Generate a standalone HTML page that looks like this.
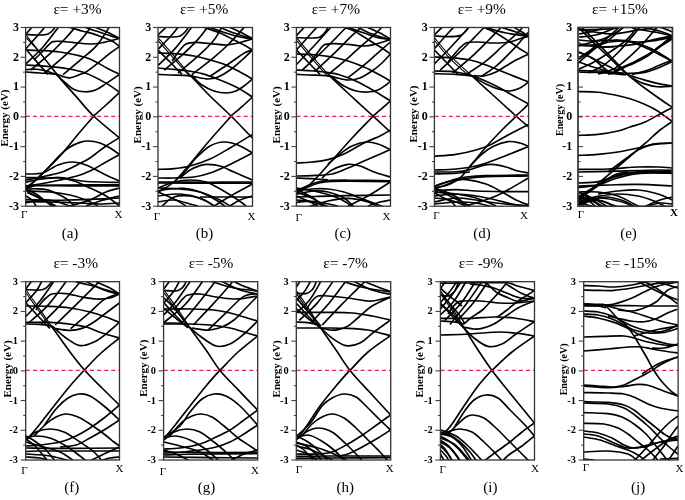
<!DOCTYPE html>
<html><head><meta charset="utf-8"><style>
html,body{margin:0;padding:0;background:#fff;}
svg{display:block;}
text{font-family:"Liberation Serif","DejaVu Serif",serif;fill:#000;}
.tl{font-weight:bold;}
.yl{font-weight:bold;font-size:10px;}
.kl{font-size:11px;}
.kl.b{font-weight:bold;}
.tt{font-size:15.4px;}
.pl{font-size:15px;}
</style></head><body>
<svg width="685" height="500" viewBox="0 0 685 500">
<rect width="685" height="500" fill="#fff"/>
<clipPath id="ca"><rect x="25.60" y="27.50" width="93.90" height="178.70"/></clipPath>
<g clip-path="url(#ca)" fill="none" stroke="#000" stroke-width="1.65" stroke-linejoin="round">
<path stroke-width="1.15" d="M26.00 35.20 C27.67 37.27 32.33 42.93 36.00 47.60 C39.67 52.27 44.67 58.80 48.00 63.20 C51.33 67.60 54.67 72.20 56.00 74.00"/>
<path d="M56.00 74.00 C59.33 77.73 69.73 89.40 76.00 96.40 C82.27 103.40 86.33 109.07 93.60 116.00 C100.87 122.93 115.27 134.33 119.60 138.00"/>
<path stroke-width="1.15" d="M26.40 38.00 C28.27 40.00 33.57 45.33 37.60 50.00 C41.63 54.67 47.30 61.93 50.60 66.00 C53.90 70.07 56.27 73.00 57.40 74.40"/>
<path d="M57.00 74.40 C59.03 74.97 65.37 77.80 69.20 77.80 C73.03 77.80 77.20 75.37 80.00 74.40 C82.80 73.43 83.00 73.90 86.00 72.00 C89.00 70.10 94.17 66.00 98.00 63.00 C101.83 60.00 105.40 56.77 109.00 54.00 C112.60 51.23 117.83 47.67 119.60 46.40"/>
<path d="M57.00 75.00 C58.63 76.50 63.97 81.60 66.80 84.00 C69.63 86.40 71.00 88.10 74.00 89.40 C77.00 90.70 81.20 91.70 84.80 91.80 C88.40 91.90 92.00 91.40 95.60 90.00 C99.20 88.60 102.40 86.00 106.40 83.40 C110.40 80.80 117.40 75.90 119.60 74.40"/>
<path d="M26.00 65.00 C28.00 65.10 34.00 65.33 38.00 65.60 C42.00 65.87 45.40 66.13 50.00 66.60 C54.60 67.07 59.60 67.30 65.60 68.40 C71.60 69.50 79.20 70.70 86.00 73.20 C92.80 75.70 100.80 80.20 106.40 83.40 C112.00 86.60 117.40 90.90 119.60 92.40"/>
<path d="M26.00 50.00 C28.67 50.10 36.33 50.27 42.00 50.60 C47.67 50.93 54.33 51.27 60.00 52.00 C65.67 52.73 71.00 53.83 76.00 55.00 C81.00 56.17 84.73 56.77 90.00 59.00 C95.27 61.23 102.67 65.83 107.60 68.40 C112.53 70.97 117.60 73.40 119.60 74.40"/>
<path d="M26.00 72.00 C28.33 72.17 36.00 72.73 40.00 73.00 C44.00 73.27 47.17 73.37 50.00 73.60 C52.83 73.83 55.83 74.27 57.00 74.40"/>
<path d="M26.00 69.60 C27.67 69.53 32.67 68.97 36.00 69.20 C39.33 69.43 42.67 70.13 46.00 71.00 C49.33 71.87 54.33 73.83 56.00 74.40"/>
<path d="M26.00 34.40 C28.33 34.50 36.33 35.07 40.00 35.00 C43.67 34.93 45.83 34.83 48.00 34.00 C50.17 33.17 51.73 31.33 53.00 30.00 C54.27 28.67 55.17 26.67 55.60 26.00"/>
<path d="M34.00 60.00 C35.33 58.67 39.67 54.40 42.00 52.00 C44.33 49.60 46.17 47.33 48.00 45.60 C49.83 43.87 50.67 42.30 53.00 41.60 C55.33 40.90 58.50 41.23 62.00 41.40 C65.50 41.57 69.33 42.17 74.00 42.60 C78.67 43.03 85.67 43.90 90.00 44.00 C94.33 44.10 96.33 43.80 100.00 43.20 C103.67 42.60 108.73 41.20 112.00 40.40 C115.27 39.60 118.33 38.73 119.60 38.40"/>
<path d="M84.00 26.00 C84.50 26.33 84.00 26.83 87.00 28.00 C90.00 29.17 97.83 31.60 102.00 33.00 C106.17 34.40 109.07 35.50 112.00 36.40 C114.93 37.30 118.33 38.07 119.60 38.40"/>
<path d="M94.00 26.00 C94.50 26.33 94.83 27.00 97.00 28.00 C99.17 29.00 104.17 30.77 107.00 32.00 C109.83 33.23 111.90 34.33 114.00 35.40 C116.10 36.47 118.67 37.90 119.60 38.40"/>
<path d="M70.00 27.40 C72.00 28.00 78.33 30.00 82.00 31.00 C85.67 32.00 88.67 32.40 92.00 33.40 C95.33 34.40 98.67 35.73 102.00 37.00 C105.33 38.27 109.07 39.43 112.00 41.00 C114.93 42.57 118.33 45.50 119.60 46.40"/>
<path d="M26.00 49.20 C28.07 51.60 34.73 59.40 38.40 63.60 C42.07 67.80 46.40 72.60 48.00 74.40"/>
<path d="M93.60 116.40 C91.33 119.00 85.60 125.40 80.00 132.00 C74.40 138.60 65.33 150.00 60.00 156.00 C54.67 162.00 52.00 164.00 48.00 168.00 C44.00 172.00 39.67 176.40 36.00 180.00 C32.33 183.60 27.67 188.00 26.00 189.60"/>
<path d="M26.00 188.00 C28.33 186.00 36.00 179.67 40.00 176.00 C44.00 172.33 46.67 169.50 50.00 166.00 C53.33 162.50 56.67 158.17 60.00 155.00 C63.33 151.83 66.67 149.10 70.00 147.00 C73.33 144.90 77.00 143.40 80.00 142.40 C83.00 141.40 84.67 140.90 88.00 141.00 C91.33 141.10 96.33 141.83 100.00 143.00 C103.67 144.17 106.73 146.07 110.00 148.00 C113.27 149.93 118.00 153.50 119.60 154.60"/>
<path d="M119.60 137.60 C117.33 139.00 110.93 142.60 106.00 146.00 C101.07 149.40 94.67 154.93 90.00 158.00 C85.33 161.07 82.67 162.07 78.00 164.40 C73.33 166.73 67.33 170.07 62.00 172.00 C56.67 173.93 52.00 174.67 46.00 176.00 C40.00 177.33 29.33 179.33 26.00 180.00"/>
<path d="M119.60 154.60 C117.33 155.83 110.27 159.60 106.00 162.00 C101.73 164.40 98.33 166.83 94.00 169.00 C89.67 171.17 85.67 173.17 80.00 175.00 C74.33 176.83 66.67 178.50 60.00 180.00 C53.33 181.50 45.67 183.00 40.00 184.00 C34.33 185.00 28.33 185.67 26.00 186.00"/>
<path d="M26.00 174.00 C27.67 173.97 32.93 174.07 36.00 173.80 C39.07 173.53 40.73 173.87 44.40 172.40 C48.07 170.93 53.40 166.73 58.00 165.00 C62.60 163.27 67.33 162.00 72.00 162.00 C76.67 162.00 81.33 163.33 86.00 165.00 C90.67 166.67 96.00 170.00 100.00 172.00 C104.00 174.00 106.73 175.50 110.00 177.00 C113.27 178.50 118.00 180.33 119.60 181.00"/>
<path d="M26.00 177.60 C27.67 177.60 32.33 177.50 36.00 177.60 C39.67 177.70 44.00 178.20 48.00 178.20 C52.00 178.20 56.00 177.40 60.00 177.60 C64.00 177.80 68.00 178.80 72.00 179.40 C76.00 180.00 79.33 180.77 84.00 181.20 C88.67 181.63 94.07 181.80 100.00 182.00 C105.93 182.20 116.33 182.33 119.60 182.40"/>
<path d="M25.60 187.20 C26.67 187.00 30.27 186.33 32.00 186.00 C33.73 185.67 29.67 185.37 36.00 185.20 C42.33 185.03 56.07 185.07 70.00 185.00 C83.93 184.93 111.33 184.83 119.60 184.80"/>
<path d="M25.60 188.00 C26.67 187.77 30.10 186.97 32.00 186.60 C33.90 186.23 30.67 185.93 37.00 185.80 C43.33 185.67 56.23 185.80 70.00 185.80 C83.77 185.80 111.33 185.80 119.60 185.80"/>
<path d="M26.00 182.00 C28.67 181.50 36.67 179.73 42.00 179.00 C47.33 178.27 52.67 177.27 58.00 177.60 C63.33 177.93 68.67 179.27 74.00 181.00 C79.33 182.73 84.67 185.50 90.00 188.00 C95.33 190.50 101.07 193.00 106.00 196.00 C110.93 199.00 117.33 204.33 119.60 206.00"/>
<path d="M25.60 199.60 C28.00 199.67 34.93 199.87 40.00 200.00 C45.07 200.13 51.47 200.40 56.00 200.40 C60.53 200.40 61.53 200.17 67.20 200.00 C72.87 199.83 81.27 199.73 90.00 199.40 C98.73 199.07 114.67 198.23 119.60 198.00"/>
<path d="M25.60 201.60 C29.67 201.67 40.93 201.77 50.00 202.00 C59.07 202.23 71.67 202.67 80.00 203.00 C88.33 203.33 93.40 204.00 100.00 204.00 C106.60 204.00 116.33 203.17 119.60 203.00"/>
<path d="M25.60 189.20 C27.33 189.13 32.53 188.73 36.00 188.80 C39.47 188.87 43.07 188.87 46.40 189.60 C49.73 190.33 53.07 191.93 56.00 193.20 C58.93 194.47 61.60 195.73 64.00 197.20 C66.40 198.67 68.73 200.53 70.40 202.00 C72.07 203.47 73.40 205.33 74.00 206.00"/>
<path d="M26.00 189.60 C27.67 190.33 33.00 192.27 36.00 194.00 C39.00 195.73 41.33 198.00 44.00 200.00 C46.67 202.00 50.67 205.00 52.00 206.00"/>
<path d="M27.20 192.40 C28.67 193.07 33.20 195.07 36.00 196.40 C38.80 197.73 41.33 198.93 44.00 200.40 C46.67 201.87 50.33 204.27 52.00 205.20 C53.67 206.13 53.67 205.87 54.00 206.00"/>
<path d="M28.80 192.40 C30.67 193.33 36.80 196.40 40.00 198.00 C43.20 199.60 45.33 200.67 48.00 202.00 C50.67 203.33 54.67 205.33 56.00 206.00"/>
<path d="M26.00 191.00 C30.00 191.17 42.67 191.33 50.00 192.00 C57.33 192.67 64.00 193.67 70.00 195.00 C76.00 196.33 81.33 198.17 86.00 200.00 C90.67 201.83 96.00 205.00 98.00 206.00"/>
<path d="M26.00 203.00 C28.33 202.50 35.33 200.33 40.00 200.00 C44.67 199.67 49.00 200.00 54.00 201.00 C59.00 202.00 67.33 205.17 70.00 206.00"/>
<path d="M26.00 196.00 C27.00 196.67 30.33 198.33 32.00 200.00 C33.67 201.67 35.33 205.00 36.00 206.00"/>
<path d="M70.00 206.00 C73.33 205.00 84.00 202.33 90.00 200.00 C96.00 197.67 101.07 194.00 106.00 192.00 C110.93 190.00 117.33 188.67 119.60 188.00"/>
<path d="M86.00 206.00 C88.33 205.17 94.40 202.67 100.00 201.00 C105.60 199.33 116.33 196.83 119.60 196.00"/>
<path d="M93.60 116.00 C95.67 114.17 101.67 108.93 106.00 105.00 C110.33 101.07 117.33 94.50 119.60 92.40"/>
<path d="M26.00 34.00 L33.00 26.00"/>
<path d="M26.00 48.60 C28.07 46.30 35.13 38.57 38.40 34.80 C41.67 31.03 44.40 27.47 45.60 26.00"/>
<path d="M26.00 63.80 C28.83 61.00 37.43 53.30 43.00 47.00 C48.57 40.70 56.67 29.50 59.40 26.00"/>
<path d="M30.80 70.00 C34.10 67.20 44.73 58.57 50.60 53.20 C56.47 47.83 61.73 42.33 66.00 37.80 C70.27 33.27 74.50 27.97 76.20 26.00"/>
<path d="M44.60 73.00 C48.17 69.93 59.87 60.20 66.00 54.60 C72.13 49.00 77.13 44.17 81.40 39.40 C85.67 34.63 89.90 28.23 91.60 26.00"/>
<path d="M63.00 74.60 C66.07 72.03 75.77 64.07 81.40 59.20 C87.03 54.33 92.03 50.93 96.80 45.40 C101.57 39.87 107.80 29.23 110.00 26.00"/>
</g>
<line x1="25.75" y1="116.45" x2="119.50" y2="116.45" stroke="#e8205a" stroke-width="1.25" stroke-dasharray="4.1 3.02"/>
<rect x="25.60" y="27.50" width="93.90" height="178.70" fill="none" stroke="#333" stroke-width="1.30"/>
<line x1="20.60" y1="206.20" x2="25.60" y2="206.20" stroke="#444" stroke-width="1.1"/>
<line x1="23.10" y1="191.31" x2="25.60" y2="191.31" stroke="#444" stroke-width="1.1"/>
<line x1="20.60" y1="176.42" x2="25.60" y2="176.42" stroke="#444" stroke-width="1.1"/>
<line x1="23.10" y1="161.52" x2="25.60" y2="161.52" stroke="#444" stroke-width="1.1"/>
<line x1="20.60" y1="146.63" x2="25.60" y2="146.63" stroke="#444" stroke-width="1.1"/>
<line x1="23.10" y1="131.74" x2="25.60" y2="131.74" stroke="#444" stroke-width="1.1"/>
<line x1="20.60" y1="116.85" x2="25.60" y2="116.85" stroke="#444" stroke-width="1.1"/>
<line x1="23.10" y1="101.96" x2="25.60" y2="101.96" stroke="#444" stroke-width="1.1"/>
<line x1="20.60" y1="87.07" x2="25.60" y2="87.07" stroke="#444" stroke-width="1.1"/>
<line x1="23.10" y1="72.17" x2="25.60" y2="72.17" stroke="#444" stroke-width="1.1"/>
<line x1="20.60" y1="57.28" x2="25.60" y2="57.28" stroke="#444" stroke-width="1.1"/>
<line x1="23.10" y1="42.39" x2="25.60" y2="42.39" stroke="#444" stroke-width="1.1"/>
<line x1="20.60" y1="27.50" x2="25.60" y2="27.50" stroke="#444" stroke-width="1.1"/>
<text x="18.90" y="209.50" text-anchor="end" class="tl" style="font-size:12.0px">-3</text>
<text x="18.90" y="179.72" text-anchor="end" class="tl" style="font-size:12.0px">-2</text>
<text x="18.90" y="149.93" text-anchor="end" class="tl" style="font-size:12.0px">-1</text>
<text x="18.90" y="120.15" text-anchor="end" class="tl" style="font-size:12.0px">0</text>
<text x="18.90" y="90.37" text-anchor="end" class="tl" style="font-size:12.0px">1</text>
<text x="18.90" y="60.58" text-anchor="end" class="tl" style="font-size:12.0px">2</text>
<text x="18.90" y="30.80" text-anchor="end" class="tl" style="font-size:12.0px">3</text>
<text transform="translate(8.10 118.05) rotate(-90)" text-anchor="middle" class="yl" style="font-size:11px">Energy (eV)</text>
<text x="24.10" y="218.20" text-anchor="middle" class="kl">Γ</text>
<text x="118.50" y="218.20" text-anchor="middle" class="kl">X</text>
<text x="77.50" y="13.70" text-anchor="middle" class="tt">ε= +3%</text>
<text x="70.00" y="237.80" text-anchor="middle" class="pl">(a)</text>
<clipPath id="cb"><rect x="158.00" y="27.50" width="94.50" height="178.70"/></clipPath>
<g clip-path="url(#cb)" fill="none" stroke="#000" stroke-width="1.65" stroke-linejoin="round">
<path stroke-width="1.10" d="M158.00 37.60 C160.33 40.27 166.67 47.37 172.00 53.60 C177.33 59.83 187.00 71.43 190.00 75.00"/>
<path d="M190.00 75.00 C193.33 78.50 203.17 89.17 210.00 96.00 C216.83 102.83 223.93 109.00 231.00 116.00 C238.07 123.00 248.83 134.33 252.40 138.00"/>
<path stroke-width="1.10" d="M158.00 40.40 C160.33 43.07 167.00 50.73 172.00 56.40 C177.00 62.07 184.83 71.07 188.00 74.40 C191.17 77.73 190.50 76.07 191.00 76.40"/>
<path d="M190.00 75.60 C191.00 75.83 193.00 76.43 196.00 77.00 C199.00 77.57 204.33 79.00 208.00 79.00 C211.67 79.00 214.33 78.50 218.00 77.00 C221.67 75.50 226.00 72.83 230.00 70.00 C234.00 67.17 238.27 63.33 242.00 60.00 C245.73 56.67 250.67 51.67 252.40 50.00"/>
<path d="M192.00 76.00 C193.67 77.50 198.33 82.50 202.00 85.00 C205.67 87.50 210.00 89.67 214.00 91.00 C218.00 92.33 222.33 93.00 226.00 93.00 C229.67 93.00 233.00 92.17 236.00 91.00 C239.00 89.83 241.27 88.00 244.00 86.00 C246.73 84.00 251.00 80.17 252.40 79.00"/>
<path d="M158.00 68.00 C160.00 68.17 165.33 68.57 170.00 69.00 C174.67 69.43 180.67 69.83 186.00 70.60 C191.33 71.37 196.33 72.03 202.00 73.60 C207.67 75.17 214.00 77.60 220.00 80.00 C226.00 82.40 232.60 85.17 238.00 88.00 C243.40 90.83 250.00 95.50 252.40 97.00"/>
<path d="M158.00 53.00 C160.67 53.10 168.00 53.10 174.00 53.60 C180.00 54.10 188.00 54.93 194.00 56.00 C200.00 57.07 204.67 58.50 210.00 60.00 C215.33 61.50 221.00 63.00 226.00 65.00 C231.00 67.00 235.60 69.67 240.00 72.00 C244.40 74.33 250.33 77.83 252.40 79.00"/>
<path d="M158.00 74.40 C160.00 74.50 165.00 74.80 170.00 75.00 C175.00 75.20 183.67 75.27 188.00 75.60 C192.33 75.93 194.67 76.77 196.00 77.00"/>
<path d="M158.00 36.40 C160.33 36.50 168.33 37.07 172.00 37.00 C175.67 36.93 177.67 37.00 180.00 36.00 C182.33 35.00 184.50 32.67 186.00 31.00 C187.50 29.33 188.50 26.83 189.00 26.00"/>
<path d="M172.00 61.00 C173.33 59.17 177.67 52.83 180.00 50.00 C182.33 47.17 183.33 45.27 186.00 44.00 C188.67 42.73 192.00 42.47 196.00 42.40 C200.00 42.33 205.00 43.17 210.00 43.60 C215.00 44.03 221.33 45.10 226.00 45.00 C230.67 44.90 233.60 44.00 238.00 43.00 C242.40 42.00 250.00 39.67 252.40 39.00"/>
<path d="M208.00 26.00 C208.33 26.23 207.00 26.23 210.00 27.40 C213.00 28.57 221.00 31.40 226.00 33.00 C231.00 34.60 235.60 36.00 240.00 37.00 C244.40 38.00 250.33 38.67 252.40 39.00"/>
<path d="M220.00 27.40 C222.33 28.33 228.60 31.07 234.00 33.00 C239.40 34.93 249.33 38.00 252.40 39.00"/>
<path d="M204.00 27.40 C206.67 28.33 215.00 30.90 220.00 33.00 C225.00 35.10 230.00 38.00 234.00 40.00 C238.00 42.00 240.93 43.33 244.00 45.00 C247.07 46.67 251.00 49.17 252.40 50.00"/>
<path d="M230.00 27.40 C231.67 28.17 236.27 30.17 240.00 32.00 C243.73 33.83 250.33 37.33 252.40 38.40"/>
<path d="M158.00 34.80 L167.40 26.00"/>
<path d="M158.00 49.40 C160.33 46.97 168.50 38.70 172.00 34.80 C175.50 30.90 177.83 27.47 179.00 26.00"/>
<path d="M158.00 65.40 C160.83 62.60 169.23 55.17 175.00 48.60 C180.77 42.03 189.67 29.77 192.60 26.00"/>
<path d="M164.20 70.00 C167.27 67.43 176.97 59.70 182.60 54.60 C188.23 49.50 193.70 44.17 198.00 39.40 C202.30 34.63 206.67 28.23 208.40 26.00"/>
<path d="M178.00 73.00 C181.33 70.20 192.10 61.57 198.00 56.20 C203.90 50.83 209.33 45.83 213.40 40.80 C217.47 35.77 220.90 28.47 222.40 26.00"/>
<path d="M191.80 74.60 C195.40 71.80 207.23 62.90 213.40 57.80 C219.57 52.70 223.47 49.30 228.80 44.00 C234.13 38.70 242.63 29.00 245.40 26.00"/>
<path d="M210.20 76.20 C213.30 74.13 223.17 67.63 228.80 63.80 C234.43 59.97 240.07 55.50 244.00 53.20 C247.93 50.90 251.00 50.53 252.40 50.00"/>
<path d="M158.00 50.00 C160.00 52.00 166.00 57.93 170.00 62.00 C174.00 66.07 180.00 72.33 182.00 74.40"/>
<path d="M231.00 116.40 C227.50 120.33 216.83 132.07 210.00 140.00 C203.17 147.93 196.00 157.00 190.00 164.00 C184.00 171.00 179.33 177.33 174.00 182.00 C168.67 186.67 160.67 190.33 158.00 192.00"/>
<path d="M180.00 178.00 C181.33 176.33 185.33 171.33 188.00 168.00 C190.67 164.67 192.33 161.67 196.00 158.00 C199.67 154.33 205.33 148.67 210.00 146.00 C214.67 143.33 219.33 142.17 224.00 142.00 C228.67 141.83 233.27 143.17 238.00 145.00 C242.73 146.83 250.00 151.67 252.40 153.00"/>
<path d="M158.00 169.40 C160.67 169.27 168.67 169.17 174.00 168.60 C179.33 168.03 184.00 167.60 190.00 166.00 C196.00 164.40 203.33 162.00 210.00 159.00 C216.67 156.00 222.93 152.10 230.00 148.00 C237.07 143.90 248.67 136.67 252.40 134.40"/>
<path d="M158.00 178.00 C160.67 178.00 168.00 178.17 174.00 178.00 C180.00 177.83 188.00 177.83 194.00 177.00 C200.00 176.17 204.00 175.10 210.00 173.00 C216.00 170.90 222.93 167.73 230.00 164.40 C237.07 161.07 248.67 154.90 252.40 153.00"/>
<path d="M180.00 178.00 C181.67 176.67 186.67 172.07 190.00 170.00 C193.33 167.93 197.00 166.53 200.00 165.60 C203.00 164.67 204.67 164.33 208.00 164.40 C211.33 164.47 215.67 164.73 220.00 166.00 C224.33 167.27 228.60 169.67 234.00 172.00 C239.40 174.33 249.33 178.67 252.40 180.00"/>
<path d="M158.00 182.00 C166.67 182.03 194.27 182.20 210.00 182.20 C225.73 182.20 245.33 182.03 252.40 182.00"/>
<path d="M158.00 183.00 C166.67 183.03 194.27 183.17 210.00 183.20 C225.73 183.23 245.33 183.20 252.40 183.20"/>
<path d="M200.00 197.00 L252.40 197.00"/>
<path d="M158.00 188.00 C160.67 187.00 168.67 183.33 174.00 182.00 C179.33 180.67 184.67 180.00 190.00 180.00 C195.33 180.00 200.67 180.33 206.00 182.00 C211.33 183.67 216.67 187.00 222.00 190.00 C227.33 193.00 234.00 197.33 238.00 200.00 C242.00 202.67 244.67 205.00 246.00 206.00"/>
<path d="M158.00 192.00 C161.00 193.33 171.33 197.67 176.00 200.00 C180.67 202.33 184.33 205.00 186.00 206.00"/>
<path d="M158.00 188.00 C161.67 188.17 173.00 188.33 180.00 189.00 C187.00 189.67 193.33 190.17 200.00 192.00 C206.67 193.83 215.00 197.67 220.00 200.00 C225.00 202.33 228.33 205.00 230.00 206.00"/>
<path d="M158.00 196.00 C161.67 195.67 173.00 193.67 180.00 194.00 C187.00 194.33 194.33 196.00 200.00 198.00 C205.67 200.00 211.67 204.67 214.00 206.00"/>
<path d="M214.00 206.00 C217.33 204.00 227.60 197.67 234.00 194.00 C240.40 190.33 249.33 185.67 252.40 184.00"/>
<path d="M230.00 206.00 C231.67 205.00 236.27 201.67 240.00 200.00 C243.73 198.33 250.33 196.67 252.40 196.00"/>
<path d="M158.00 202.00 C160.67 201.67 168.67 199.67 174.00 200.00 C179.33 200.33 186.00 203.00 190.00 204.00 C194.00 205.00 196.67 205.67 198.00 206.00"/>
<path d="M158.00 191.00 C160.00 190.67 165.67 189.43 170.00 189.00 C174.33 188.57 179.00 187.90 184.00 188.40 C189.00 188.90 194.67 190.07 200.00 192.00 C205.33 193.93 211.67 197.50 216.00 200.00 C220.33 202.50 224.33 205.83 226.00 207.00"/>
<path d="M162.00 206.00 C164.00 204.50 169.33 198.67 174.00 197.00 C178.67 195.33 184.67 195.33 190.00 196.00 C195.33 196.67 201.67 199.17 206.00 201.00 C210.33 202.83 214.33 206.00 216.00 207.00"/>
<path d="M231.00 116.00 C232.83 114.43 238.43 109.77 242.00 106.60 C245.57 103.43 250.67 98.60 252.40 97.00"/>
</g>
<line x1="158.15" y1="116.45" x2="252.50" y2="116.45" stroke="#e8205a" stroke-width="1.25" stroke-dasharray="4.1 3.02"/>
<rect x="158.00" y="27.50" width="94.50" height="178.70" fill="none" stroke="#333" stroke-width="1.30"/>
<line x1="153.00" y1="206.20" x2="158.00" y2="206.20" stroke="#444" stroke-width="1.1"/>
<line x1="155.50" y1="191.31" x2="158.00" y2="191.31" stroke="#444" stroke-width="1.1"/>
<line x1="153.00" y1="176.42" x2="158.00" y2="176.42" stroke="#444" stroke-width="1.1"/>
<line x1="155.50" y1="161.52" x2="158.00" y2="161.52" stroke="#444" stroke-width="1.1"/>
<line x1="153.00" y1="146.63" x2="158.00" y2="146.63" stroke="#444" stroke-width="1.1"/>
<line x1="155.50" y1="131.74" x2="158.00" y2="131.74" stroke="#444" stroke-width="1.1"/>
<line x1="153.00" y1="116.85" x2="158.00" y2="116.85" stroke="#444" stroke-width="1.1"/>
<line x1="155.50" y1="101.96" x2="158.00" y2="101.96" stroke="#444" stroke-width="1.1"/>
<line x1="153.00" y1="87.07" x2="158.00" y2="87.07" stroke="#444" stroke-width="1.1"/>
<line x1="155.50" y1="72.17" x2="158.00" y2="72.17" stroke="#444" stroke-width="1.1"/>
<line x1="153.00" y1="57.28" x2="158.00" y2="57.28" stroke="#444" stroke-width="1.1"/>
<line x1="155.50" y1="42.39" x2="158.00" y2="42.39" stroke="#444" stroke-width="1.1"/>
<line x1="153.00" y1="27.50" x2="158.00" y2="27.50" stroke="#444" stroke-width="1.1"/>
<text x="151.30" y="209.50" text-anchor="end" class="tl" style="font-size:12.0px">-3</text>
<text x="151.30" y="179.72" text-anchor="end" class="tl" style="font-size:12.0px">-2</text>
<text x="151.30" y="149.93" text-anchor="end" class="tl" style="font-size:12.0px">-1</text>
<text x="151.30" y="120.15" text-anchor="end" class="tl" style="font-size:12.0px">0</text>
<text x="151.30" y="90.37" text-anchor="end" class="tl" style="font-size:12.0px">1</text>
<text x="151.30" y="60.58" text-anchor="end" class="tl" style="font-size:12.0px">2</text>
<text x="151.30" y="30.80" text-anchor="end" class="tl" style="font-size:12.0px">3</text>
<text transform="translate(140.90 114.85) rotate(-90)" text-anchor="middle" class="yl" style="font-size:11px">Energy (eV)</text>
<text x="157.00" y="220.20" text-anchor="middle" class="kl">Γ</text>
<text x="251.50" y="220.20" text-anchor="middle" class="kl">X</text>
<text x="204.20" y="13.70" text-anchor="middle" class="tt">ε= +5%</text>
<text x="204.50" y="237.80" text-anchor="middle" class="pl">(b)</text>
<clipPath id="cc"><rect x="296.40" y="27.50" width="94.10" height="178.70"/></clipPath>
<g clip-path="url(#cc)" fill="none" stroke="#000" stroke-width="1.65" stroke-linejoin="round">
<path stroke-width="1.10" d="M296.40 37.60 C298.67 40.27 304.73 47.47 310.00 53.60 C315.27 59.73 325.00 70.93 328.00 74.40"/>
<path d="M328.00 74.40 C331.67 77.83 342.50 88.07 350.00 95.00 C357.50 101.93 366.27 109.83 373.00 116.00 C379.73 122.17 387.50 129.33 390.40 132.00"/>
<path stroke-width="1.10" d="M296.40 40.40 C298.67 43.07 305.07 50.73 310.00 56.40 C314.93 62.07 322.83 71.13 326.00 74.40 C329.17 77.67 328.50 75.73 329.00 76.00"/>
<path d="M328.00 75.20 C329.33 75.60 332.67 76.80 336.00 77.60 C339.33 78.40 344.00 79.93 348.00 80.00 C352.00 80.07 356.00 79.50 360.00 78.00 C364.00 76.50 368.33 73.50 372.00 71.00 C375.67 68.50 378.93 65.83 382.00 63.00 C385.07 60.17 389.00 55.50 390.40 54.00"/>
<path d="M332.00 77.00 C334.00 78.50 340.00 83.67 344.00 86.00 C348.00 88.33 352.00 90.00 356.00 91.00 C360.00 92.00 364.33 92.17 368.00 92.00 C371.67 91.83 375.00 91.17 378.00 90.00 C381.00 88.83 383.93 86.50 386.00 85.00 C388.07 83.50 389.67 81.67 390.40 81.00"/>
<path d="M296.40 70.00 C298.33 70.10 303.40 70.27 308.00 70.60 C312.60 70.93 318.67 71.27 324.00 72.00 C329.33 72.73 334.33 73.33 340.00 75.00 C345.67 76.67 352.00 79.17 358.00 82.00 C364.00 84.83 370.60 88.83 376.00 92.00 C381.40 95.17 388.00 99.50 390.40 101.00"/>
<path d="M296.40 54.00 C299.00 54.10 306.07 54.10 312.00 54.60 C317.93 55.10 326.00 55.93 332.00 57.00 C338.00 58.07 342.67 59.33 348.00 61.00 C353.33 62.67 359.00 64.83 364.00 67.00 C369.00 69.17 373.60 71.67 378.00 74.00 C382.40 76.33 388.33 79.83 390.40 81.00"/>
<path d="M296.40 74.40 C298.33 74.50 303.07 74.80 308.00 75.00 C312.93 75.20 321.67 75.27 326.00 75.60 C330.33 75.93 332.67 76.77 334.00 77.00"/>
<path d="M296.40 37.60 C298.67 37.67 306.07 38.10 310.00 38.00 C313.93 37.90 317.33 38.17 320.00 37.00 C322.67 35.83 324.67 32.83 326.00 31.00 C327.33 29.17 327.67 26.83 328.00 26.00"/>
<path d="M310.00 62.00 C311.33 60.33 315.67 54.83 318.00 52.00 C320.33 49.17 321.33 46.40 324.00 45.00 C326.67 43.60 330.00 43.70 334.00 43.60 C338.00 43.50 343.00 44.00 348.00 44.40 C353.00 44.80 359.33 46.07 364.00 46.00 C368.67 45.93 371.60 45.07 376.00 44.00 C380.40 42.93 388.00 40.33 390.40 39.60"/>
<path d="M346.00 26.00 C346.33 26.23 345.00 26.23 348.00 27.40 C351.00 28.57 359.00 31.30 364.00 33.00 C369.00 34.70 373.60 36.50 378.00 37.60 C382.40 38.70 388.33 39.27 390.40 39.60"/>
<path d="M358.00 27.40 C360.33 28.50 366.60 31.97 372.00 34.00 C377.40 36.03 387.33 38.67 390.40 39.60"/>
<path d="M344.00 27.40 C345.67 28.00 350.67 29.40 354.00 31.00 C357.33 32.60 361.00 35.17 364.00 37.00 C367.00 38.83 369.00 40.17 372.00 42.00 C375.00 43.83 378.93 46.00 382.00 48.00 C385.07 50.00 389.00 53.00 390.40 54.00"/>
<path d="M368.00 27.40 C370.00 28.33 376.27 31.07 380.00 33.00 C383.73 34.93 388.67 38.00 390.40 39.00"/>
<path d="M296.40 35.60 L305.40 26.00"/>
<path d="M296.40 50.00 C298.67 47.47 306.40 38.80 310.00 34.80 C313.60 30.80 316.67 27.47 318.00 26.00"/>
<path d="M296.40 64.60 C299.17 61.67 307.07 53.43 313.00 47.00 C318.93 40.57 328.83 29.50 332.00 26.00"/>
<path d="M302.20 70.00 C305.27 67.20 314.97 58.57 320.60 53.20 C326.23 47.83 331.53 42.33 336.00 37.80 C340.47 33.27 345.50 27.97 347.40 26.00"/>
<path d="M314.60 71.60 C318.17 68.27 329.87 57.50 336.00 51.60 C342.13 45.70 346.97 40.47 351.40 36.20 C355.83 31.93 360.73 27.70 362.60 26.00"/>
<path d="M328.40 74.40 C331.70 71.63 342.60 62.63 348.20 57.80 C353.80 52.97 357.37 49.50 362.00 45.40 C366.63 41.30 372.50 36.43 376.00 33.20 C379.50 29.97 381.83 27.20 383.00 26.00"/>
<path d="M348.20 77.60 C350.77 75.57 358.97 69.23 363.60 65.40 C368.23 61.57 371.53 58.50 376.00 54.60 C380.47 50.70 388.00 44.10 390.40 42.00"/>
<path d="M296.40 50.00 C298.33 52.00 304.07 57.93 308.00 62.00 C311.93 66.07 318.00 72.33 320.00 74.40"/>
<path d="M373.00 116.40 C369.83 119.67 360.17 129.40 354.00 136.00 C347.83 142.60 341.67 149.67 336.00 156.00 C330.33 162.33 324.67 169.00 320.00 174.00 C315.33 179.00 311.93 183.00 308.00 186.00 C304.07 189.00 298.33 191.00 296.40 192.00"/>
<path d="M296.40 163.00 C299.00 162.83 306.73 162.57 312.00 162.00 C317.27 161.43 322.67 160.93 328.00 159.60 C333.33 158.27 338.00 156.77 344.00 154.00 C350.00 151.23 358.00 146.00 364.00 143.00 C370.00 140.00 375.60 138.17 380.00 136.00 C384.40 133.83 388.67 131.00 390.40 130.00"/>
<path d="M328.00 164.00 C330.00 162.33 336.00 157.00 340.00 154.00 C344.00 151.00 347.67 148.00 352.00 146.00 C356.33 144.00 361.67 142.33 366.00 142.00 C370.33 141.67 373.93 142.73 378.00 144.00 C382.07 145.27 388.33 148.67 390.40 149.60"/>
<path d="M296.40 176.00 C299.00 175.93 306.07 175.93 312.00 175.60 C317.93 175.27 326.00 175.27 332.00 174.00 C338.00 172.73 342.67 170.17 348.00 168.00 C353.33 165.83 359.00 163.17 364.00 161.00 C369.00 158.83 373.60 156.90 378.00 155.00 C382.40 153.10 388.33 150.50 390.40 149.60"/>
<path d="M322.00 178.00 C323.67 176.67 327.67 172.27 332.00 170.00 C336.33 167.73 343.33 165.07 348.00 164.40 C352.67 163.73 355.67 164.73 360.00 166.00 C364.33 167.27 368.93 170.17 374.00 172.00 C379.07 173.83 387.67 176.17 390.40 177.00"/>
<path d="M296.40 191.00 C298.33 190.10 304.40 187.10 308.00 185.60 C311.60 184.10 314.67 182.83 318.00 182.00 C321.33 181.17 323.00 180.90 328.00 180.60 C333.00 180.30 337.60 180.17 348.00 180.20 C358.40 180.23 383.33 180.70 390.40 180.80"/>
<path d="M296.40 193.00 C298.33 192.00 304.07 188.70 308.00 187.00 C311.93 185.30 316.00 183.73 320.00 182.80 C324.00 181.87 327.33 181.67 332.00 181.40 C336.67 181.13 338.27 181.13 348.00 181.20 C357.73 181.27 383.33 181.70 390.40 181.80"/>
<path d="M296.40 178.00 C299.00 178.10 306.73 178.27 312.00 178.60 C317.27 178.93 325.33 179.77 328.00 180.00"/>
<path d="M296.40 191.00 C299.00 190.67 306.73 189.33 312.00 189.00 C317.27 188.67 322.67 188.50 328.00 189.00 C333.33 189.50 338.67 190.50 344.00 192.00 C349.33 193.50 354.67 196.00 360.00 198.00 C365.33 200.00 372.00 202.50 376.00 204.00 C380.00 205.50 382.67 206.50 384.00 207.00"/>
<path d="M296.40 197.00 C300.00 196.90 309.40 196.63 318.00 196.40 C326.60 196.17 335.93 195.83 348.00 195.60 C360.07 195.37 383.33 195.10 390.40 195.00"/>
<path d="M296.40 194.00 C299.33 193.50 308.73 191.33 314.00 191.00 C319.27 190.67 323.00 190.83 328.00 192.00 C333.00 193.17 339.67 195.50 344.00 198.00 C348.33 200.50 352.33 205.50 354.00 207.00"/>
<path d="M308.00 207.00 C311.33 206.00 321.33 202.43 328.00 201.00 C334.67 199.57 341.33 198.23 348.00 198.40 C354.67 198.57 363.00 200.57 368.00 202.00 C373.00 203.43 376.33 206.17 378.00 207.00"/>
<path d="M348.00 206.00 C351.33 204.33 360.93 200.00 368.00 196.00 C375.07 192.00 386.67 184.33 390.40 182.00"/>
<path d="M296.40 192.00 C299.00 193.00 307.40 195.67 312.00 198.00 C316.60 200.33 322.00 204.67 324.00 206.00"/>
<path d="M296.40 196.00 C298.33 196.83 304.40 199.33 308.00 201.00 C311.60 202.67 316.33 205.17 318.00 206.00"/>
<path d="M296.40 188.00 C300.00 188.67 311.07 190.33 318.00 192.00 C324.93 193.67 332.33 195.67 338.00 198.00 C343.67 200.33 349.67 204.67 352.00 206.00"/>
<path d="M296.40 200.00 C300.00 200.33 311.07 201.00 318.00 202.00 C324.93 203.00 334.67 205.33 338.00 206.00"/>
<path d="M368.00 206.00 C370.00 205.33 376.27 203.00 380.00 202.00 C383.73 201.00 388.67 200.33 390.40 200.00"/>
<path d="M296.40 189.00 C298.00 189.83 302.73 192.17 306.00 194.00 C309.27 195.83 313.17 197.83 316.00 200.00 C318.83 202.17 321.83 205.83 323.00 207.00"/>
<path d="M296.40 202.40 C298.33 202.23 303.40 200.97 308.00 201.40 C312.60 201.83 320.67 204.07 324.00 205.00 C327.33 205.93 327.33 206.67 328.00 207.00"/>
<path d="M373.00 116.00 C374.50 114.73 379.10 110.90 382.00 108.40 C384.90 105.90 389.00 102.23 390.40 101.00"/>
</g>
<line x1="296.55" y1="116.45" x2="390.50" y2="116.45" stroke="#e8205a" stroke-width="1.25" stroke-dasharray="4.1 3.02"/>
<rect x="296.40" y="27.50" width="94.10" height="178.70" fill="none" stroke="#333" stroke-width="1.30"/>
<line x1="291.40" y1="206.20" x2="296.40" y2="206.20" stroke="#444" stroke-width="1.1"/>
<line x1="293.90" y1="191.31" x2="296.40" y2="191.31" stroke="#444" stroke-width="1.1"/>
<line x1="291.40" y1="176.42" x2="296.40" y2="176.42" stroke="#444" stroke-width="1.1"/>
<line x1="293.90" y1="161.52" x2="296.40" y2="161.52" stroke="#444" stroke-width="1.1"/>
<line x1="291.40" y1="146.63" x2="296.40" y2="146.63" stroke="#444" stroke-width="1.1"/>
<line x1="293.90" y1="131.74" x2="296.40" y2="131.74" stroke="#444" stroke-width="1.1"/>
<line x1="291.40" y1="116.85" x2="296.40" y2="116.85" stroke="#444" stroke-width="1.1"/>
<line x1="293.90" y1="101.96" x2="296.40" y2="101.96" stroke="#444" stroke-width="1.1"/>
<line x1="291.40" y1="87.07" x2="296.40" y2="87.07" stroke="#444" stroke-width="1.1"/>
<line x1="293.90" y1="72.17" x2="296.40" y2="72.17" stroke="#444" stroke-width="1.1"/>
<line x1="291.40" y1="57.28" x2="296.40" y2="57.28" stroke="#444" stroke-width="1.1"/>
<line x1="293.90" y1="42.39" x2="296.40" y2="42.39" stroke="#444" stroke-width="1.1"/>
<line x1="291.40" y1="27.50" x2="296.40" y2="27.50" stroke="#444" stroke-width="1.1"/>
<text x="289.70" y="209.50" text-anchor="end" class="tl" style="font-size:12.0px">-3</text>
<text x="289.70" y="179.72" text-anchor="end" class="tl" style="font-size:12.0px">-2</text>
<text x="289.70" y="149.93" text-anchor="end" class="tl" style="font-size:12.0px">-1</text>
<text x="289.70" y="120.15" text-anchor="end" class="tl" style="font-size:12.0px">0</text>
<text x="289.70" y="90.37" text-anchor="end" class="tl" style="font-size:12.0px">1</text>
<text x="289.70" y="60.58" text-anchor="end" class="tl" style="font-size:12.0px">2</text>
<text x="289.70" y="30.80" text-anchor="end" class="tl" style="font-size:12.0px">3</text>
<text transform="translate(279.70 114.85) rotate(-90)" text-anchor="middle" class="yl" style="font-size:11px">Energy (eV)</text>
<text x="298.75" y="221.20" text-anchor="middle" class="kl">Γ</text>
<text x="386.40" y="220.20" text-anchor="middle" class="kl">X</text>
<text x="335.90" y="13.70" text-anchor="middle" class="tt">ε= +7%</text>
<text x="342.80" y="237.80" text-anchor="middle" class="pl">(c)</text>
<clipPath id="cd"><rect x="434.40" y="27.50" width="94.20" height="178.70"/></clipPath>
<g clip-path="url(#cd)" fill="none" stroke="#000" stroke-width="1.65" stroke-linejoin="round">
<path stroke-width="1.10" d="M434.40 37.60 C436.67 40.27 441.73 47.20 448.00 53.60 C454.27 60.00 468.00 72.27 472.00 76.00"/>
<path d="M472.00 76.00 C475.67 79.33 486.67 89.33 494.00 96.00 C501.33 102.67 510.23 110.83 516.00 116.00 C521.77 121.17 526.50 125.17 528.60 127.00"/>
<path stroke-width="1.10" d="M434.40 40.40 C436.67 43.07 442.73 50.97 448.00 56.40 C453.27 61.83 461.67 69.73 466.00 73.00 C470.33 76.27 472.67 75.50 474.00 76.00"/>
<path d="M474.00 77.00 C476.00 78.17 482.00 82.00 486.00 84.00 C490.00 86.00 494.00 87.83 498.00 89.00 C502.00 90.17 506.33 91.17 510.00 91.00 C513.67 90.83 516.90 89.50 520.00 88.00 C523.10 86.50 527.17 83.00 528.60 82.00"/>
<path d="M474.00 75.60 C475.67 75.67 480.33 76.60 484.00 76.00 C487.67 75.40 492.33 73.67 496.00 72.00 C499.67 70.33 502.67 68.00 506.00 66.00 C509.33 64.00 512.23 62.00 516.00 60.00 C519.77 58.00 526.50 55.00 528.60 54.00"/>
<path d="M434.40 71.00 C438.00 71.17 449.07 71.00 456.00 72.00 C462.93 73.00 469.33 74.67 476.00 77.00 C482.67 79.33 489.67 82.83 496.00 86.00 C502.33 89.17 508.57 93.00 514.00 96.00 C519.43 99.00 526.17 102.67 528.60 104.00"/>
<path d="M434.40 57.00 C437.00 57.10 444.07 57.10 450.00 57.60 C455.93 58.10 464.00 58.77 470.00 60.00 C476.00 61.23 480.00 62.83 486.00 65.00 C492.00 67.17 498.90 70.17 506.00 73.00 C513.10 75.83 524.83 80.50 528.60 82.00"/>
<path d="M434.40 73.60 C438.00 73.73 449.73 74.00 456.00 74.40 C462.27 74.80 469.33 75.73 472.00 76.00"/>
<path d="M434.40 36.00 C436.67 36.10 443.73 36.67 448.00 36.60 C452.27 36.53 457.00 36.53 460.00 35.60 C463.00 34.67 464.50 32.60 466.00 31.00 C467.50 29.40 468.50 26.83 469.00 26.00"/>
<path d="M448.00 62.00 C449.67 60.00 455.00 53.17 458.00 50.00 C461.00 46.83 462.67 44.33 466.00 43.00 C469.33 41.67 473.33 42.00 478.00 42.00 C482.67 42.00 488.67 43.00 494.00 43.00 C499.33 43.00 505.33 42.83 510.00 42.00 C514.67 41.17 518.90 38.93 522.00 38.00 C525.10 37.07 527.50 36.67 528.60 36.40"/>
<path d="M484.00 26.00 C484.33 26.23 482.33 26.23 486.00 27.40 C489.67 28.57 498.90 31.50 506.00 33.00 C513.10 34.50 524.83 35.83 528.60 36.40"/>
<path d="M502.00 27.40 C504.33 28.17 511.57 30.50 516.00 32.00 C520.43 33.50 526.50 35.67 528.60 36.40"/>
<path d="M514.00 27.40 C515.33 28.17 519.57 30.57 522.00 32.00 C524.43 33.43 527.50 35.33 528.60 36.00"/>
<path d="M434.40 34.80 L443.40 26.00"/>
<path d="M434.40 48.60 C436.67 46.03 444.57 36.97 448.00 33.20 C451.43 29.43 453.83 27.20 455.00 26.00"/>
<path d="M434.40 63.80 C437.17 61.00 445.07 53.30 451.00 47.00 C456.93 40.70 466.83 29.50 470.00 26.00"/>
<path d="M440.20 70.00 C443.27 67.20 452.97 58.57 458.60 53.20 C464.23 47.83 469.53 42.33 474.00 37.80 C478.47 33.27 483.50 27.97 485.40 26.00"/>
<path d="M452.60 73.00 C456.17 69.93 467.87 60.20 474.00 54.60 C480.13 49.00 484.67 44.17 489.40 39.40 C494.13 34.63 500.23 28.23 502.40 26.00"/>
<path d="M466.40 74.40 C469.70 72.13 480.33 65.37 486.20 60.80 C492.07 56.23 496.97 51.10 501.60 47.00 C506.23 42.90 510.27 39.70 514.00 36.20 C517.73 32.70 522.33 27.70 524.00 26.00"/>
<path d="M481.60 76.20 C484.17 74.40 491.60 70.00 497.00 65.40 C502.40 60.80 508.73 54.17 514.00 48.60 C519.27 43.03 526.17 34.77 528.60 32.00"/>
<path d="M484.00 27.40 C486.00 28.33 491.67 30.57 496.00 33.00 C500.33 35.43 506.00 39.33 510.00 42.00 C514.00 44.67 516.90 47.00 520.00 49.00 C523.10 51.00 527.17 53.17 528.60 54.00"/>
<path d="M434.40 50.00 C436.33 52.00 442.07 57.93 446.00 62.00 C449.93 66.07 456.00 72.33 458.00 74.40"/>
<path d="M516.00 116.40 C513.67 118.67 507.00 124.90 502.00 130.00 C497.00 135.10 491.00 141.33 486.00 147.00 C481.00 152.67 476.33 158.83 472.00 164.00 C467.67 169.17 464.33 174.40 460.00 178.00 C455.67 181.60 450.27 184.00 446.00 185.60 C441.73 187.20 436.33 187.27 434.40 187.60"/>
<path d="M434.40 156.20 C438.00 155.90 449.07 155.43 456.00 154.40 C462.93 153.37 470.33 151.57 476.00 150.00 C481.67 148.43 484.33 147.67 490.00 145.00 C495.67 142.33 503.57 137.43 510.00 134.00 C516.43 130.57 525.50 126.00 528.60 124.40"/>
<path d="M470.00 166.00 C472.00 164.00 478.00 157.33 482.00 154.00 C486.00 150.67 489.67 148.07 494.00 146.00 C498.33 143.93 503.67 142.10 508.00 141.60 C512.33 141.10 516.57 142.20 520.00 143.00 C523.43 143.80 527.17 145.83 528.60 146.40"/>
<path d="M434.40 170.00 C438.00 169.83 449.07 169.67 456.00 169.00 C462.93 168.33 470.00 167.33 476.00 166.00 C482.00 164.67 486.33 163.00 492.00 161.00 C497.67 159.00 503.90 156.43 510.00 154.00 C516.10 151.57 525.50 147.67 528.60 146.40"/>
<path d="M434.40 172.00 C438.00 171.97 450.07 172.20 456.00 171.80 C461.93 171.40 465.67 170.63 470.00 169.60 C474.33 168.57 478.33 166.47 482.00 165.60 C485.67 164.73 488.00 164.17 492.00 164.40 C496.00 164.63 501.67 165.90 506.00 167.00 C510.33 168.10 514.23 170.00 518.00 171.00 C521.77 172.00 526.83 172.67 528.60 173.00"/>
<path d="M434.40 186.40 C436.33 185.73 442.40 183.63 446.00 182.40 C449.60 181.17 452.67 179.90 456.00 179.00 C459.33 178.10 461.00 177.57 466.00 177.00 C471.00 176.43 475.57 175.93 486.00 175.60 C496.43 175.27 521.50 175.10 528.60 175.00"/>
<path d="M434.40 189.00 C436.67 188.17 444.07 185.50 448.00 184.00 C451.93 182.50 454.33 181.00 458.00 180.00 C461.67 179.00 465.33 178.57 470.00 178.00 C474.67 177.43 476.23 176.93 486.00 176.60 C495.77 176.27 521.50 176.10 528.60 176.00"/>
<path d="M434.40 186.00 C437.00 185.17 444.73 182.07 450.00 181.00 C455.27 179.93 460.00 179.10 466.00 179.60 C472.00 180.10 480.00 181.93 486.00 184.00 C492.00 186.07 497.00 189.33 502.00 192.00 C507.00 194.67 511.57 197.83 516.00 200.00 C520.43 202.17 526.50 204.17 528.60 205.00"/>
<path d="M434.40 191.00 C438.00 190.77 449.07 189.60 456.00 189.60 C462.93 189.60 468.33 190.67 476.00 191.00 C483.67 191.33 493.23 191.50 502.00 191.60 C510.77 191.70 524.17 191.60 528.60 191.60"/>
<path d="M434.40 174.00 C438.00 173.87 450.07 173.53 456.00 173.20 C461.93 172.87 467.67 172.20 470.00 172.00"/>
<path d="M434.40 196.00 C438.00 195.67 449.07 194.00 456.00 194.00 C462.93 194.00 469.33 195.00 476.00 196.00 C482.67 197.00 489.33 198.50 496.00 200.00 C502.67 201.50 510.57 204.00 516.00 205.00 C521.43 206.00 526.50 205.83 528.60 206.00"/>
<path d="M466.00 206.00 C471.00 204.33 485.57 200.67 496.00 196.00 C506.43 191.33 523.17 181.00 528.60 178.00"/>
<path d="M434.40 188.00 C437.00 189.33 444.73 193.33 450.00 196.00 C455.27 198.67 462.67 202.33 466.00 204.00 C469.33 205.67 469.33 205.67 470.00 206.00"/>
<path d="M434.40 192.00 C438.00 192.33 449.07 193.00 456.00 194.00 C462.93 195.00 469.33 196.00 476.00 198.00 C482.67 200.00 492.67 204.67 496.00 206.00"/>
<path d="M434.40 198.00 C437.00 198.33 444.73 198.67 450.00 200.00 C455.27 201.33 463.33 205.00 466.00 206.00"/>
<path d="M434.40 202.00 C438.00 201.33 449.07 198.33 456.00 198.00 C462.93 197.67 469.33 199.17 476.00 200.00 C482.67 200.83 487.23 202.00 496.00 203.00 C504.77 204.00 523.17 205.50 528.60 206.00"/>
<path d="M434.40 188.00 C436.33 188.67 442.07 190.33 446.00 192.00 C449.93 193.67 454.67 195.50 458.00 198.00 C461.33 200.50 464.67 205.50 466.00 207.00"/>
<path d="M434.40 193.00 C435.67 193.67 439.07 195.43 442.00 197.00 C444.93 198.57 449.67 200.73 452.00 202.40 C454.33 204.07 455.33 206.23 456.00 207.00"/>
<path d="M434.40 204.00 C438.00 203.67 449.07 202.17 456.00 202.00 C462.93 201.83 470.00 202.17 476.00 203.00 C482.00 203.83 489.33 206.33 492.00 207.00"/>
<path d="M516.00 116.00 C517.07 115.00 520.30 112.00 522.40 110.00 C524.50 108.00 527.57 105.00 528.60 104.00"/>
</g>
<line x1="434.55" y1="116.45" x2="528.60" y2="116.45" stroke="#e8205a" stroke-width="1.25" stroke-dasharray="4.1 3.02"/>
<rect x="434.40" y="27.50" width="94.20" height="178.70" fill="none" stroke="#333" stroke-width="1.30"/>
<line x1="429.40" y1="206.20" x2="434.40" y2="206.20" stroke="#444" stroke-width="1.1"/>
<line x1="431.90" y1="191.31" x2="434.40" y2="191.31" stroke="#444" stroke-width="1.1"/>
<line x1="429.40" y1="176.42" x2="434.40" y2="176.42" stroke="#444" stroke-width="1.1"/>
<line x1="431.90" y1="161.52" x2="434.40" y2="161.52" stroke="#444" stroke-width="1.1"/>
<line x1="429.40" y1="146.63" x2="434.40" y2="146.63" stroke="#444" stroke-width="1.1"/>
<line x1="431.90" y1="131.74" x2="434.40" y2="131.74" stroke="#444" stroke-width="1.1"/>
<line x1="429.40" y1="116.85" x2="434.40" y2="116.85" stroke="#444" stroke-width="1.1"/>
<line x1="431.90" y1="101.96" x2="434.40" y2="101.96" stroke="#444" stroke-width="1.1"/>
<line x1="429.40" y1="87.07" x2="434.40" y2="87.07" stroke="#444" stroke-width="1.1"/>
<line x1="431.90" y1="72.17" x2="434.40" y2="72.17" stroke="#444" stroke-width="1.1"/>
<line x1="429.40" y1="57.28" x2="434.40" y2="57.28" stroke="#444" stroke-width="1.1"/>
<line x1="431.90" y1="42.39" x2="434.40" y2="42.39" stroke="#444" stroke-width="1.1"/>
<line x1="429.40" y1="27.50" x2="434.40" y2="27.50" stroke="#444" stroke-width="1.1"/>
<text x="427.70" y="209.50" text-anchor="end" class="tl" style="font-size:12.0px">-3</text>
<text x="427.70" y="179.72" text-anchor="end" class="tl" style="font-size:12.0px">-2</text>
<text x="427.70" y="149.93" text-anchor="end" class="tl" style="font-size:12.0px">-1</text>
<text x="427.70" y="120.15" text-anchor="end" class="tl" style="font-size:12.0px">0</text>
<text x="427.70" y="90.37" text-anchor="end" class="tl" style="font-size:12.0px">1</text>
<text x="427.70" y="60.58" text-anchor="end" class="tl" style="font-size:12.0px">2</text>
<text x="427.70" y="30.80" text-anchor="end" class="tl" style="font-size:12.0px">3</text>
<text transform="translate(417.30 114.05) rotate(-90)" text-anchor="middle" class="yl" style="font-size:11px">Energy (eV)</text>
<text x="436.50" y="219.45" text-anchor="middle" class="kl">Γ</text>
<text x="523.90" y="219.20" text-anchor="middle" class="kl">X</text>
<text x="481.80" y="13.70" text-anchor="middle" class="tt">ε= +9%</text>
<text x="481.90" y="237.80" text-anchor="middle" class="pl">(d)</text>
<clipPath id="ce"><rect x="578.00" y="27.50" width="94.40" height="178.70"/></clipPath>
<g clip-path="url(#ce)" fill="none" stroke="#000" stroke-width="1.65" stroke-linejoin="round">
<path d="M578.00 91.60 C581.33 91.70 592.00 91.67 598.00 92.20 C604.00 92.73 608.67 93.70 614.00 94.80 C619.33 95.90 625.00 97.27 630.00 98.80 C635.00 100.33 639.67 102.13 644.00 104.00 C648.33 105.87 652.67 108.07 656.00 110.00 C659.33 111.93 661.27 113.70 664.00 115.60 C666.73 117.50 671.00 120.43 672.40 121.40"/>
<path d="M578.00 27.00 C578.47 27.47 577.63 26.63 580.80 29.80 C583.97 32.97 591.87 41.03 597.00 46.00 C602.13 50.97 607.07 55.27 611.60 59.60 C616.13 63.93 619.73 68.03 624.20 72.00 C628.67 75.97 634.77 80.57 638.40 83.40 C642.03 86.23 642.40 86.40 646.00 89.00 C649.60 91.60 655.60 95.93 660.00 99.00 C664.40 102.07 670.33 106.00 672.40 107.40"/>
<path d="M581.00 27.00 C581.50 27.43 580.83 26.50 584.00 29.60 C587.17 32.70 595.00 40.53 600.00 45.60 C605.00 50.67 609.97 55.77 614.00 60.00 C618.03 64.23 621.70 68.50 624.20 71.00 C626.70 73.50 625.83 73.57 629.00 75.00 C632.17 76.43 638.47 78.20 643.20 79.60 C647.93 81.00 652.60 82.30 657.40 83.40 C662.20 84.50 669.57 85.73 672.00 86.20"/>
<path d="M631.80 77.80 C633.70 78.73 638.93 81.90 643.20 83.40 C647.47 84.90 652.60 86.33 657.40 86.80 C662.20 87.27 669.57 86.30 672.00 86.20"/>
<path d="M614.00 72.00 C616.17 72.23 622.13 73.30 627.00 73.40 C631.87 73.50 638.13 73.47 643.20 72.60 C648.27 71.73 652.60 70.03 657.40 68.20 C662.20 66.37 669.57 62.70 672.00 61.60"/>
<path d="M614.00 71.00 C614.90 70.53 616.13 69.60 619.40 68.20 C622.67 66.80 628.83 64.80 633.60 62.60 C638.37 60.40 643.60 57.77 648.00 55.00 C652.40 52.23 655.93 48.83 660.00 46.00 C664.07 43.17 670.33 39.33 672.40 38.00"/>
<path d="M614.00 71.80 C614.90 71.33 616.13 70.40 619.40 69.00 C622.67 67.60 628.83 65.60 633.60 63.40 C638.37 61.20 643.60 58.57 648.00 55.80 C652.40 53.03 655.93 49.63 660.00 46.80 C664.07 43.97 670.33 40.13 672.40 38.80"/>
<path d="M578.00 72.00 C581.33 72.07 592.00 72.13 598.00 72.40 C604.00 72.67 609.33 73.17 614.00 73.60 C618.67 74.03 624.00 74.77 626.00 75.00"/>
<path d="M578.00 70.40 C581.33 70.50 592.00 70.67 598.00 71.00 C604.00 71.33 609.33 71.83 614.00 72.40 C618.67 72.97 624.00 74.07 626.00 74.40"/>
<path d="M578.00 65.00 C578.23 64.50 576.07 65.17 579.40 62.00 C582.73 58.83 591.43 51.73 598.00 46.00 C604.57 40.27 615.33 30.67 618.80 27.60"/>
<path d="M579.00 59.00 C581.50 57.33 588.83 52.33 594.00 49.00 C599.17 45.67 605.67 42.17 610.00 39.00 C614.33 35.83 618.00 31.93 620.00 30.00 C622.00 28.07 621.67 27.83 622.00 27.40"/>
<path d="M579.00 69.00 C581.50 67.83 588.83 64.83 594.00 62.00 C599.17 59.17 605.00 55.33 610.00 52.00 C615.00 48.67 620.33 45.00 624.00 42.00 C627.67 39.00 630.00 36.43 632.00 34.00 C634.00 31.57 635.33 28.50 636.00 27.40"/>
<path d="M588.00 73.00 C590.67 71.67 598.87 68.53 604.00 65.00 C609.13 61.47 613.17 57.67 618.80 51.80 C624.43 45.93 634.27 33.93 637.80 29.80 C641.33 25.67 639.63 27.47 640.00 27.00"/>
<path d="M598.00 74.00 C600.97 72.97 609.40 71.73 615.80 67.80 C622.20 63.87 630.30 56.23 636.40 50.40 C642.50 44.57 648.93 36.70 652.40 32.80 C655.87 28.90 656.40 27.97 657.20 27.00"/>
<path d="M608.00 74.40 C610.03 73.57 615.47 71.70 620.20 69.40 C624.93 67.10 631.03 63.53 636.40 60.60 C641.77 57.67 646.40 55.97 652.40 51.80 C658.40 47.63 669.07 38.30 672.40 35.60"/>
<path d="M632.00 74.40 C634.67 73.67 643.33 71.57 648.00 70.00 C652.67 68.43 655.93 66.67 660.00 65.00 C664.07 63.33 670.33 60.83 672.40 60.00"/>
<path d="M614.00 40.00 C616.73 40.27 624.73 40.13 630.40 41.60 C636.07 43.07 641.00 45.47 648.00 48.80 C655.00 52.13 668.33 59.47 672.40 61.60"/>
<path d="M579.00 52.00 C580.83 52.83 586.50 55.33 590.00 57.00 C593.50 58.67 596.67 60.33 600.00 62.00 C603.33 63.67 607.00 65.33 610.00 67.00 C613.00 68.67 616.67 71.17 618.00 72.00"/>
<path d="M579.00 62.00 C580.83 62.67 586.50 64.83 590.00 66.00 C593.50 67.17 596.67 68.00 600.00 69.00 C603.33 70.00 608.33 71.50 610.00 72.00"/>
<path d="M578.00 46.00 C581.33 45.17 592.00 41.93 598.00 41.00 C604.00 40.07 608.67 40.23 614.00 40.40 C619.33 40.57 625.33 41.23 630.00 42.00 C634.67 42.77 638.00 43.67 642.00 45.00 C646.00 46.33 650.33 48.17 654.00 50.00 C657.67 51.83 660.93 54.07 664.00 56.00 C667.07 57.93 671.00 60.67 672.40 61.60"/>
<path d="M600.00 47.40 C603.00 47.17 612.33 46.50 618.00 46.00 C623.67 45.50 628.33 45.40 634.00 44.40 C639.67 43.40 645.60 41.47 652.00 40.00 C658.40 38.53 669.00 36.33 672.40 35.60"/>
<path d="M579.00 34.00 C580.83 33.67 586.50 32.83 590.00 32.00 C593.50 31.17 597.67 29.83 600.00 29.00 C602.33 28.17 603.33 27.33 604.00 27.00"/>
<path d="M579.00 37.00 C580.83 36.83 586.50 36.50 590.00 36.00 C593.50 35.50 596.67 35.00 600.00 34.00 C603.33 33.00 607.17 31.17 610.00 30.00 C612.83 28.83 615.83 27.50 617.00 27.00"/>
<path d="M579.00 40.00 C580.83 40.17 586.50 41.00 590.00 41.00 C593.50 41.00 596.67 40.83 600.00 40.00 C603.33 39.17 606.67 37.67 610.00 36.00 C613.33 34.33 617.67 31.50 620.00 30.00 C622.33 28.50 623.33 27.50 624.00 27.00"/>
<path d="M579.00 44.00 C580.83 44.17 586.50 45.00 590.00 45.00 C593.50 45.00 596.67 44.50 600.00 44.00 C603.33 43.50 606.67 42.50 610.00 42.00 C613.33 41.50 617.50 41.17 620.00 41.00 C622.50 40.83 622.00 40.83 625.00 41.00 C628.00 41.17 633.50 42.00 638.00 42.00 C642.50 42.00 646.27 41.83 652.00 41.00 C657.73 40.17 669.00 37.67 672.40 37.00"/>
<path d="M579.00 45.40 C580.83 45.50 586.50 45.73 590.00 46.00 C593.50 46.27 596.00 46.83 600.00 47.00 C604.00 47.17 611.67 47.00 614.00 47.00"/>
<path d="M578.00 30.00 C581.33 29.93 591.33 29.93 598.00 29.60 C604.67 29.27 614.67 28.27 618.00 28.00"/>
<path d="M578.00 29.00 C580.67 29.50 588.00 31.17 594.00 32.00 C600.00 32.83 606.67 34.33 614.00 34.00 C621.33 33.67 631.67 31.00 638.00 30.00 C644.33 29.00 649.67 28.33 652.00 28.00"/>
<path d="M632.00 28.00 C634.67 28.50 643.33 30.17 648.00 31.00 C652.67 31.83 655.93 32.17 660.00 33.00 C664.07 33.83 670.33 35.50 672.40 36.00"/>
<path d="M644.00 27.40 C646.00 27.83 652.00 28.90 656.00 30.00 C660.00 31.10 665.27 32.83 668.00 34.00 C670.73 35.17 671.67 36.50 672.40 37.00"/>
<path d="M660.00 27.00 C661.33 27.50 665.93 29.17 668.00 30.00 C670.07 30.83 671.67 31.67 672.40 32.00"/>
<path d="M578.00 58.00 C579.67 57.00 584.67 54.33 588.00 52.00 C591.33 49.67 596.33 45.33 598.00 44.00"/>
<path d="M578.00 52.00 C580.33 53.00 587.67 55.33 592.00 58.00 C596.33 60.67 600.67 65.27 604.00 68.00 C607.33 70.73 610.67 73.33 612.00 74.40"/>
<path d="M578.00 135.40 C581.33 135.23 591.33 135.13 598.00 134.40 C604.67 133.67 612.67 132.23 618.00 131.00 C623.33 129.77 625.50 128.50 630.00 127.00 C634.50 125.50 639.83 124.27 645.00 122.00 C650.17 119.73 656.43 115.80 661.00 113.40 C665.57 111.00 670.50 108.57 672.40 107.60"/>
<path d="M672.40 121.40 C670.33 122.83 663.90 126.90 660.00 130.00 C656.10 133.10 652.00 137.33 649.00 140.00 C646.00 142.67 645.50 143.00 642.00 146.00 C638.50 149.00 632.67 154.00 628.00 158.00 C623.33 162.00 618.67 166.00 614.00 170.00 C609.33 174.00 604.33 178.33 600.00 182.00 C595.67 185.67 591.67 189.33 588.00 192.00 C584.33 194.67 579.67 197.00 578.00 198.00"/>
<path d="M578.00 155.40 C581.33 155.23 591.33 154.97 598.00 154.40 C604.67 153.83 611.33 153.07 618.00 152.00 C624.67 150.93 632.00 149.27 638.00 148.00 C644.00 146.73 648.27 145.23 654.00 144.40 C659.73 143.57 669.33 143.23 672.40 143.00"/>
<path d="M608.00 172.00 C610.67 170.00 619.00 163.67 624.00 160.00 C629.00 156.33 633.33 152.60 638.00 150.00 C642.67 147.40 648.33 145.50 652.00 144.40 C655.67 143.30 656.60 143.63 660.00 143.40 C663.40 143.17 670.33 143.07 672.40 143.00"/>
<path d="M578.00 169.40 C583.00 169.33 598.00 169.40 608.00 169.00 C618.00 168.60 629.67 167.33 638.00 167.00 C646.33 166.67 652.27 166.83 658.00 167.00 C663.73 167.17 670.00 167.83 672.40 168.00"/>
<path d="M578.00 172.00 C583.00 171.90 598.00 171.63 608.00 171.40 C618.00 171.17 629.67 170.83 638.00 170.60 C646.33 170.37 652.27 170.03 658.00 170.00 C663.73 169.97 670.00 170.33 672.40 170.40"/>
<path d="M578.00 183.00 C581.33 182.77 592.00 182.70 598.00 181.60 C604.00 180.50 609.00 177.83 614.00 176.40 C619.00 174.97 622.33 173.83 628.00 173.00 C633.67 172.17 640.60 171.57 648.00 171.40 C655.40 171.23 668.33 171.90 672.40 172.00"/>
<path d="M578.00 187.60 C581.33 187.17 592.00 186.43 598.00 185.00 C604.00 183.57 608.33 180.77 614.00 179.00 C619.67 177.23 625.67 175.40 632.00 174.40 C638.33 173.40 645.27 173.17 652.00 173.00 C658.73 172.83 669.00 173.33 672.40 173.40"/>
<path d="M578.00 186.00 C583.00 185.83 598.00 185.27 608.00 185.00 C618.00 184.73 627.27 184.23 638.00 184.40 C648.73 184.57 666.67 185.73 672.40 186.00"/>
<path d="M598.00 194.00 C601.33 193.50 611.33 191.67 618.00 191.00 C624.67 190.33 631.33 189.50 638.00 190.00 C644.67 190.50 652.27 192.33 658.00 194.00 C663.73 195.67 670.00 199.00 672.40 200.00"/>
<path d="M578.00 196.00 C581.33 196.67 591.33 198.17 598.00 200.00 C604.67 201.83 614.67 205.83 618.00 207.00"/>
<path d="M644.00 207.00 C646.67 205.83 655.27 201.67 660.00 200.00 C664.73 198.33 670.33 197.50 672.40 197.00"/>
<path d="M578.00 192.00 C581.33 192.00 591.33 191.33 598.00 192.00 C604.67 192.67 612.00 194.00 618.00 196.00 C624.00 198.00 630.33 202.17 634.00 204.00 C637.67 205.83 639.00 206.50 640.00 207.00"/>
<path d="M578.00 200.00 C579.67 199.67 584.33 197.00 588.00 198.00 C591.67 199.00 598.00 204.67 600.00 206.00"/>
<path d="M578.00 203.00 L592.00 206.00"/>
<path d="M578.00 200.00 C580.33 198.33 587.00 193.40 592.00 190.00 C597.00 186.60 602.67 182.20 608.00 179.60 C613.33 177.00 618.33 175.60 624.00 174.40 C629.67 173.20 633.93 172.67 642.00 172.40 C650.07 172.13 667.33 172.73 672.40 172.80"/>
<path d="M578.00 192.00 C579.67 192.67 584.67 194.50 588.00 196.00 C591.33 197.50 594.67 199.17 598.00 201.00 C601.33 202.83 606.33 206.00 608.00 207.00"/>
<path d="M578.00 198.00 C580.33 198.50 587.67 199.50 592.00 201.00 C596.33 202.50 602.00 206.00 604.00 207.00"/>
<path d="M578.00 204.40 C579.67 203.90 584.67 202.13 588.00 201.40 C591.33 200.67 594.67 199.73 598.00 200.00 C601.33 200.27 605.33 201.83 608.00 203.00 C610.67 204.17 613.00 206.33 614.00 207.00"/>
<path d="M578.00 201.60 C581.33 200.73 591.33 197.67 598.00 196.40 C604.67 195.13 611.33 194.07 618.00 194.00 C624.67 193.93 632.00 194.83 638.00 196.00 C644.00 197.17 649.33 199.17 654.00 201.00 C658.67 202.83 664.00 206.00 666.00 207.00"/>
<path d="M648.00 206.00 C650.00 205.50 655.93 203.33 660.00 203.00 C664.07 202.67 670.33 203.83 672.40 204.00"/>
<path d="M578.00 192.00 C579.33 192.67 583.33 194.50 586.00 196.00 C588.67 197.50 591.33 199.17 594.00 201.00 C596.67 202.83 600.67 206.00 602.00 207.00"/>
<path d="M578.00 195.00 C579.67 195.83 585.00 198.00 588.00 200.00 C591.00 202.00 594.67 205.83 596.00 207.00"/>
<path d="M578.00 197.00 C581.00 195.17 591.33 188.83 596.00 186.00 C600.67 183.17 602.67 181.93 606.00 180.00 C609.33 178.07 612.33 175.73 616.00 174.40 C619.67 173.07 626.00 172.40 628.00 172.00"/>
<path d="M578.00 203.00 C579.67 202.50 584.33 200.83 588.00 200.00 C591.67 199.17 595.67 198.00 600.00 198.00 C604.33 198.00 609.33 199.00 614.00 200.00 C618.67 201.00 625.00 202.83 628.00 204.00 C631.00 205.17 631.33 206.50 632.00 207.00"/>
<path d="M580.00 207.00 C581.83 205.83 586.67 201.67 591.00 200.00 C595.33 198.33 601.00 197.00 606.00 197.00 C611.00 197.00 616.67 198.67 621.00 200.00 C625.33 201.33 629.83 203.83 632.00 205.00 C634.17 206.17 633.67 206.67 634.00 207.00"/>
<path d="M578.00 206.00 C579.00 205.40 581.67 203.17 584.00 202.40 C586.33 201.63 590.67 201.57 592.00 201.40"/>
</g>
<line x1="578.15" y1="116.45" x2="672.40" y2="116.45" stroke="#e8205a" stroke-width="1.25" stroke-dasharray="4.1 3.02"/>
<rect x="578.00" y="27.50" width="94.40" height="178.70" fill="none" stroke="#333" stroke-width="1.70"/>
<line x1="578.00" y1="206.20" x2="583.00" y2="206.20" stroke="#444" stroke-width="1.1"/>
<line x1="578.00" y1="191.31" x2="580.50" y2="191.31" stroke="#444" stroke-width="1.1"/>
<line x1="578.00" y1="176.42" x2="583.00" y2="176.42" stroke="#444" stroke-width="1.1"/>
<line x1="578.00" y1="161.52" x2="580.50" y2="161.52" stroke="#444" stroke-width="1.1"/>
<line x1="578.00" y1="146.63" x2="583.00" y2="146.63" stroke="#444" stroke-width="1.1"/>
<line x1="578.00" y1="131.74" x2="580.50" y2="131.74" stroke="#444" stroke-width="1.1"/>
<line x1="578.00" y1="116.85" x2="583.00" y2="116.85" stroke="#444" stroke-width="1.1"/>
<line x1="578.00" y1="101.96" x2="580.50" y2="101.96" stroke="#444" stroke-width="1.1"/>
<line x1="578.00" y1="87.07" x2="583.00" y2="87.07" stroke="#444" stroke-width="1.1"/>
<line x1="578.00" y1="72.17" x2="580.50" y2="72.17" stroke="#444" stroke-width="1.1"/>
<line x1="578.00" y1="57.28" x2="583.00" y2="57.28" stroke="#444" stroke-width="1.1"/>
<line x1="578.00" y1="42.39" x2="580.50" y2="42.39" stroke="#444" stroke-width="1.1"/>
<line x1="578.00" y1="27.50" x2="583.00" y2="27.50" stroke="#444" stroke-width="1.1"/>
<text x="572.30" y="209.50" text-anchor="end" class="tl" style="font-size:12.0px">-3</text>
<text x="572.30" y="179.72" text-anchor="end" class="tl" style="font-size:12.0px">-2</text>
<text x="572.30" y="149.93" text-anchor="end" class="tl" style="font-size:12.0px">-1</text>
<text x="572.30" y="120.15" text-anchor="end" class="tl" style="font-size:12.0px">0</text>
<text x="572.30" y="90.37" text-anchor="end" class="tl" style="font-size:12.0px">1</text>
<text x="572.30" y="60.58" text-anchor="end" class="tl" style="font-size:12.0px">2</text>
<text x="572.30" y="30.80" text-anchor="end" class="tl" style="font-size:12.0px">3</text>
<text transform="translate(563.00 109.95) rotate(-90)" text-anchor="middle" class="yl" style="font-size:10px">Energy (eV)</text>
<text x="581.00" y="217.50" text-anchor="middle" class="kl">Γ</text>
<text x="674.00" y="216.40" text-anchor="middle" class="kl b">X</text>
<text x="620.00" y="13.70" text-anchor="middle" class="tt">ε= +15%</text>
<text x="628.50" y="237.80" text-anchor="middle" class="pl">(e)</text>
<clipPath id="cf"><rect x="25.70" y="281.70" width="93.80" height="178.30"/></clipPath>
<g clip-path="url(#cf)" fill="none" stroke="#000" stroke-width="1.65" stroke-linejoin="round">
<path stroke-width="1.10" d="M26.00 290.00 C28.33 293.27 35.67 303.43 40.00 309.60 C44.33 315.77 50.00 324.10 52.00 327.00"/>
<path d="M52.00 327.00 C55.00 331.17 64.60 344.83 70.00 352.00 C75.40 359.17 79.07 364.00 84.40 370.00 C89.73 376.00 96.17 382.17 102.00 388.00 C107.83 393.83 116.50 402.17 119.40 405.00"/>
<path stroke-width="1.10" d="M26.00 292.80 C28.33 296.07 36.00 306.87 40.00 312.40 C44.00 317.93 47.50 323.27 50.00 326.00 C52.50 328.73 54.17 328.33 55.00 328.80"/>
<path d="M54.00 328.40 C56.67 328.73 65.33 330.40 70.00 330.40 C74.67 330.40 78.00 329.80 82.00 328.40 C86.00 327.00 90.00 324.57 94.00 322.00 C98.00 319.43 101.77 316.17 106.00 313.00 C110.23 309.83 117.17 304.67 119.40 303.00"/>
<path d="M52.00 326.00 C54.33 328.00 61.33 334.73 66.00 338.00 C70.67 341.27 75.33 344.93 80.00 345.60 C84.67 346.27 89.67 343.93 94.00 342.00 C98.33 340.07 101.77 337.27 106.00 334.00 C110.23 330.73 117.17 324.33 119.40 322.40"/>
<path d="M26.00 306.00 C30.00 306.07 42.67 306.07 50.00 306.40 C57.33 306.73 63.33 307.07 70.00 308.00 C76.67 308.93 84.00 310.50 90.00 312.00 C96.00 313.50 101.10 315.27 106.00 317.00 C110.90 318.73 117.17 321.50 119.40 322.40"/>
<path d="M26.00 322.40 C30.00 322.40 43.33 322.20 50.00 322.40 C56.67 322.60 60.00 322.83 66.00 323.60 C72.00 324.37 80.00 325.43 86.00 327.00 C92.00 328.57 96.43 331.17 102.00 333.00 C107.57 334.83 116.50 337.17 119.40 338.00"/>
<path d="M26.00 324.00 C28.33 324.07 35.67 324.07 40.00 324.40 C44.33 324.73 50.00 325.73 52.00 326.00"/>
<path d="M26.00 289.60 C28.33 289.67 36.67 290.27 40.00 290.00 C43.33 289.73 44.33 289.00 46.00 288.00 C47.67 287.00 48.93 285.33 50.00 284.00 C51.07 282.67 52.00 280.67 52.40 280.00"/>
<path d="M36.00 310.00 C37.00 308.67 40.33 304.00 42.00 302.00 C43.67 300.00 44.33 299.33 46.00 298.00 C47.67 296.67 48.67 294.73 52.00 294.00 C55.33 293.27 61.00 293.10 66.00 293.60 C71.00 294.10 77.00 296.10 82.00 297.00 C87.00 297.90 91.33 298.83 96.00 299.00 C100.67 299.17 106.10 298.83 110.00 298.00 C113.90 297.17 117.83 294.67 119.40 294.00"/>
<path d="M74.00 280.00 C74.33 280.27 71.67 280.27 76.00 281.60 C80.33 282.93 92.77 285.93 100.00 288.00 C107.23 290.07 116.17 293.00 119.40 294.00"/>
<path d="M96.00 281.60 C98.33 282.67 106.10 285.93 110.00 288.00 C113.90 290.07 117.83 293.00 119.40 294.00"/>
<path d="M86.00 281.60 C89.00 283.00 98.43 287.87 104.00 290.00 C109.57 292.13 116.83 293.67 119.40 294.40"/>
<path d="M26.00 288.80 L32.40 280.00"/>
<path d="M26.00 302.60 C27.80 300.53 34.07 293.97 36.80 290.20 C39.53 286.43 41.47 281.70 42.40 280.00"/>
<path d="M26.00 316.40 C28.33 313.83 35.20 307.07 40.00 301.00 C44.80 294.93 52.33 283.50 54.80 280.00"/>
<path d="M29.20 322.40 C32.27 319.60 41.27 312.67 47.60 305.60 C53.93 298.53 63.93 284.27 67.20 280.00"/>
<path d="M41.40 324.00 C44.47 320.93 53.67 312.23 59.80 305.60 C65.93 298.97 74.43 288.47 78.20 284.20 C81.97 279.93 81.70 280.70 82.40 280.00"/>
<path d="M55.20 325.00 C58.27 322.03 67.97 312.73 73.60 307.20 C79.23 301.67 84.43 296.33 89.00 291.80 C93.57 287.27 99.00 281.97 101.00 280.00"/>
<path d="M70.60 328.60 C73.67 326.03 83.37 318.07 89.00 313.20 C94.63 308.33 99.33 302.67 104.40 299.40 C109.47 296.13 116.90 294.57 119.40 293.60"/>
<path d="M84.40 370.00 C87.00 367.33 94.17 359.33 100.00 354.00 C105.83 348.67 116.17 340.67 119.40 338.00"/>
<path d="M26.00 303.00 C28.00 305.17 34.00 311.77 38.00 316.00 C42.00 320.23 48.00 326.33 50.00 328.40"/>
<path d="M84.40 370.00 C82.00 372.67 75.07 380.00 70.00 386.00 C64.93 392.00 59.00 399.67 54.00 406.00 C49.00 412.33 44.00 419.00 40.00 424.00 C36.00 429.00 32.33 433.60 30.00 436.00 C27.67 438.40 26.67 438.00 26.00 438.40"/>
<path d="M44.00 426.00 C46.00 423.17 52.00 413.67 56.00 409.00 C60.00 404.33 64.17 400.50 68.00 398.00 C71.83 395.50 75.33 394.33 79.00 394.00 C82.67 393.67 85.83 394.00 90.00 396.00 C94.17 398.00 99.10 402.00 104.00 406.00 C108.90 410.00 116.83 417.67 119.40 420.00"/>
<path d="M34.00 436.00 C36.00 434.00 42.33 427.17 46.00 424.00 C49.67 420.83 52.67 418.67 56.00 417.00 C59.33 415.33 62.33 414.00 66.00 414.00 C69.67 414.00 74.00 415.33 78.00 417.00 C82.00 418.67 85.67 421.17 90.00 424.00 C94.33 426.83 100.00 431.00 104.00 434.00 C108.00 437.00 111.43 440.00 114.00 442.00 C116.57 444.00 118.50 445.33 119.40 446.00"/>
<path d="M26.00 446.00 C28.33 445.83 34.33 445.67 40.00 445.00 C45.67 444.33 54.00 443.50 60.00 442.00 C66.00 440.50 71.00 438.33 76.00 436.00 C81.00 433.67 85.33 431.00 90.00 428.00 C94.67 425.00 99.10 421.83 104.00 418.00 C108.90 414.17 116.83 407.17 119.40 405.00"/>
<path d="M60.00 447.00 C62.67 446.67 71.00 446.50 76.00 445.00 C81.00 443.50 85.33 440.50 90.00 438.00 C94.67 435.50 99.10 433.00 104.00 430.00 C108.90 427.00 116.83 421.67 119.40 420.00"/>
<path d="M26.00 440.00 C27.67 438.67 32.00 433.83 36.00 432.00 C40.00 430.17 45.33 429.00 50.00 429.00 C54.67 429.00 59.00 429.83 64.00 432.00 C69.00 434.17 75.00 438.67 80.00 442.00 C85.00 445.33 90.33 448.83 94.00 452.00 C97.67 455.17 100.67 459.50 102.00 461.00"/>
<path d="M26.00 438.00 C27.67 437.67 32.00 436.00 36.00 436.00 C40.00 436.00 45.00 436.33 50.00 438.00 C55.00 439.67 61.00 443.00 66.00 446.00 C71.00 449.00 76.67 453.50 80.00 456.00 C83.33 458.50 85.00 460.17 86.00 461.00"/>
<path d="M26.00 448.00 C33.33 448.07 54.43 448.40 70.00 448.40 C85.57 448.40 111.17 448.07 119.40 448.00"/>
<path d="M26.00 451.60 C28.33 451.50 24.43 451.10 40.00 451.00 C55.57 450.90 106.17 451.00 119.40 451.00"/>
<path d="M26.00 436.00 C27.67 437.00 32.67 439.67 36.00 442.00 C39.33 444.33 42.83 446.83 46.00 450.00 C49.17 453.17 53.50 459.17 55.00 461.00"/>
<path d="M26.00 439.00 C27.33 440.00 31.33 442.50 34.00 445.00 C36.67 447.50 39.67 451.33 42.00 454.00 C44.33 456.67 47.00 459.83 48.00 461.00"/>
<path d="M26.00 454.00 C30.00 454.33 42.67 454.83 50.00 456.00 C57.33 457.17 66.67 460.17 70.00 461.00"/>
<path d="M90.00 461.00 C92.33 459.83 99.10 456.33 104.00 454.00 C108.90 451.67 116.83 448.17 119.40 447.00"/>
<path d="M100.00 461.00 C101.67 460.50 106.77 458.67 110.00 458.00 C113.23 457.33 117.83 457.17 119.40 457.00"/>
<path d="M26.00 442.00 C28.33 442.67 34.33 444.33 40.00 446.00 C45.67 447.67 54.33 449.50 60.00 452.00 C65.67 454.50 71.67 459.50 74.00 461.00"/>
<path d="M26.00 457.00 C28.33 457.17 36.00 457.33 40.00 458.00 C44.00 458.67 48.33 460.50 50.00 461.00"/>
</g>
<line x1="25.85" y1="370.45" x2="119.50" y2="370.45" stroke="#e8205a" stroke-width="1.25" stroke-dasharray="4.1 3.02"/>
<rect x="25.70" y="281.70" width="93.80" height="178.30" fill="none" stroke="#333" stroke-width="1.30"/>
<line x1="20.70" y1="460.00" x2="25.70" y2="460.00" stroke="#444" stroke-width="1.1"/>
<line x1="23.20" y1="445.14" x2="25.70" y2="445.14" stroke="#444" stroke-width="1.1"/>
<line x1="20.70" y1="430.28" x2="25.70" y2="430.28" stroke="#444" stroke-width="1.1"/>
<line x1="23.20" y1="415.43" x2="25.70" y2="415.43" stroke="#444" stroke-width="1.1"/>
<line x1="20.70" y1="400.57" x2="25.70" y2="400.57" stroke="#444" stroke-width="1.1"/>
<line x1="23.20" y1="385.71" x2="25.70" y2="385.71" stroke="#444" stroke-width="1.1"/>
<line x1="20.70" y1="370.85" x2="25.70" y2="370.85" stroke="#444" stroke-width="1.1"/>
<line x1="23.20" y1="355.99" x2="25.70" y2="355.99" stroke="#444" stroke-width="1.1"/>
<line x1="20.70" y1="341.13" x2="25.70" y2="341.13" stroke="#444" stroke-width="1.1"/>
<line x1="23.20" y1="326.27" x2="25.70" y2="326.27" stroke="#444" stroke-width="1.1"/>
<line x1="20.70" y1="311.42" x2="25.70" y2="311.42" stroke="#444" stroke-width="1.1"/>
<line x1="23.20" y1="296.56" x2="25.70" y2="296.56" stroke="#444" stroke-width="1.1"/>
<line x1="20.70" y1="281.70" x2="25.70" y2="281.70" stroke="#444" stroke-width="1.1"/>
<text x="18.00" y="463.00" text-anchor="end" class="tl" style="font-size:10.4px">-3</text>
<text x="18.00" y="433.28" text-anchor="end" class="tl" style="font-size:10.4px">-2</text>
<text x="18.00" y="403.57" text-anchor="end" class="tl" style="font-size:10.4px">-1</text>
<text x="18.00" y="373.85" text-anchor="end" class="tl" style="font-size:10.4px">0</text>
<text x="18.00" y="344.13" text-anchor="end" class="tl" style="font-size:10.4px">1</text>
<text x="18.00" y="314.42" text-anchor="end" class="tl" style="font-size:10.4px">2</text>
<text x="18.00" y="284.70" text-anchor="end" class="tl" style="font-size:10.4px">3</text>
<text transform="translate(10.50 368.95) rotate(-90)" text-anchor="middle" class="yl" style="font-size:11px">Energy (eV)</text>
<text x="24.50" y="474.20" text-anchor="middle" class="kl">Γ</text>
<text x="119.40" y="472.20" text-anchor="middle" class="kl">X</text>
<text x="75.70" y="267.90" text-anchor="middle" class="tt">ε= -3%</text>
<text x="71.70" y="491.60" text-anchor="middle" class="pl">(f)</text>
<clipPath id="cg"><rect x="163.60" y="281.70" width="94.10" height="178.30"/></clipPath>
<g clip-path="url(#cg)" fill="none" stroke="#000" stroke-width="1.65" stroke-linejoin="round">
<path stroke-width="1.10" d="M164.00 290.00 C166.33 293.27 173.67 303.27 178.00 309.60 C182.33 315.93 188.00 324.93 190.00 328.00"/>
<path d="M190.00 328.00 C192.67 331.67 201.00 342.93 206.00 350.00 C211.00 357.07 214.67 363.80 220.00 370.40 C225.33 377.00 231.73 383.00 238.00 389.60 C244.27 396.20 254.33 406.60 257.60 410.00"/>
<path stroke-width="1.10" d="M164.00 292.80 C166.33 296.07 174.00 306.80 178.00 312.40 C182.00 318.00 185.60 323.73 188.00 326.40 C190.40 329.07 191.67 328.07 192.40 328.40"/>
<path d="M192.00 328.00 C193.67 328.27 199.00 329.27 202.00 329.60 C205.00 329.93 206.67 330.43 210.00 330.00 C213.33 329.57 218.00 328.67 222.00 327.00 C226.00 325.33 230.00 323.17 234.00 320.00 C238.00 316.83 242.07 312.00 246.00 308.00 C249.93 304.00 255.67 298.00 257.60 296.00"/>
<path d="M188.00 326.00 C190.00 327.67 195.33 332.67 200.00 336.00 C204.67 339.33 211.00 344.67 216.00 346.00 C221.00 347.33 225.33 346.00 230.00 344.00 C234.67 342.00 239.40 337.83 244.00 334.00 C248.60 330.17 255.33 323.17 257.60 321.00"/>
<path d="M164.00 309.00 C168.33 309.00 181.67 308.83 190.00 309.00 C198.33 309.17 207.33 309.33 214.00 310.00 C220.67 310.67 225.00 311.83 230.00 313.00 C235.00 314.17 239.40 315.67 244.00 317.00 C248.60 318.33 255.33 320.33 257.60 321.00"/>
<path d="M164.00 324.00 C168.33 324.00 182.33 323.83 190.00 324.00 C197.67 324.17 203.33 324.33 210.00 325.00 C216.67 325.67 224.33 326.83 230.00 328.00 C235.67 329.17 239.40 330.67 244.00 332.00 C248.60 333.33 255.33 335.33 257.60 336.00"/>
<path d="M164.00 323.00 C166.67 323.03 176.00 322.87 180.00 323.20 C184.00 323.53 186.67 324.70 188.00 325.00"/>
<path d="M164.00 290.40 C166.00 290.50 173.00 291.40 176.00 291.00 C179.00 290.60 180.50 289.17 182.00 288.00 C183.50 286.83 184.23 285.33 185.00 284.00 C185.77 282.67 186.33 280.67 186.60 280.00"/>
<path d="M174.00 310.00 C175.00 308.67 178.33 304.07 180.00 302.00 C181.67 299.93 182.67 298.77 184.00 297.60 C185.33 296.43 185.33 295.60 188.00 295.00 C190.67 294.40 195.33 293.67 200.00 294.00 C204.67 294.33 210.33 296.17 216.00 297.00 C221.67 297.83 229.00 298.83 234.00 299.00 C239.00 299.17 242.07 298.50 246.00 298.00 C249.93 297.50 255.67 296.33 257.60 296.00"/>
<path d="M210.00 280.00 C210.33 280.27 208.00 280.27 212.00 281.60 C216.00 282.93 226.40 286.43 234.00 288.00 C241.60 289.57 253.67 290.50 257.60 291.00"/>
<path d="M234.00 281.60 C236.00 282.50 242.07 285.43 246.00 287.00 C249.93 288.57 255.67 290.33 257.60 291.00"/>
<path d="M222.00 281.60 C225.00 283.00 234.07 287.93 240.00 290.00 C245.93 292.07 254.67 293.33 257.60 294.00"/>
<path d="M164.00 288.80 L170.40 280.00"/>
<path d="M164.00 302.60 C165.57 300.80 170.73 295.57 173.40 291.80 C176.07 288.03 178.90 281.97 180.00 280.00"/>
<path d="M164.00 314.80 C166.07 312.50 171.87 306.80 176.40 301.00 C180.93 295.20 188.73 283.50 191.20 280.00"/>
<path d="M164.00 322.40 C167.60 319.33 179.00 311.07 185.60 304.00 C192.20 296.93 200.60 284.00 203.60 280.00"/>
<path d="M181.00 324.00 C183.80 320.67 192.43 310.63 197.80 304.00 C203.17 297.37 210.17 288.20 213.20 284.20 C216.23 280.20 215.53 280.70 216.00 280.00"/>
<path d="M193.20 325.00 C196.27 321.77 206.23 311.40 211.60 305.60 C216.97 299.80 221.67 294.47 225.40 290.20 C229.13 285.93 232.57 281.70 234.00 280.00"/>
<path d="M220.00 370.40 C223.00 367.33 231.73 357.73 238.00 352.00 C244.27 346.27 254.33 338.67 257.60 336.00"/>
<path d="M208.60 329.60 C211.67 326.63 221.13 317.33 227.00 311.80 C232.87 306.27 238.70 299.43 243.80 296.40 C248.90 293.37 255.30 294.07 257.60 293.60"/>
<path d="M164.00 303.00 C166.00 305.17 172.00 311.83 176.00 316.00 C180.00 320.17 186.00 326.00 188.00 328.00"/>
<path d="M220.00 370.00 C217.67 372.67 211.00 380.00 206.00 386.00 C201.00 392.00 195.00 399.67 190.00 406.00 C185.00 412.33 180.00 419.00 176.00 424.00 C172.00 429.00 168.00 433.80 166.00 436.00 C164.00 438.20 164.33 437.00 164.00 437.20"/>
<path d="M164.00 437.20 C166.67 435.33 175.67 430.20 180.00 426.00 C184.33 421.80 186.33 416.50 190.00 412.00 C193.67 407.50 198.00 402.00 202.00 399.00 C206.00 396.00 210.00 394.50 214.00 394.00 C218.00 393.50 221.67 394.00 226.00 396.00 C230.33 398.00 234.73 401.17 240.00 406.00 C245.27 410.83 254.67 421.83 257.60 425.00"/>
<path d="M170.00 436.00 C172.00 433.67 178.33 425.33 182.00 422.00 C185.67 418.67 188.83 417.33 192.00 416.00 C195.17 414.67 197.67 413.83 201.00 414.00 C204.33 414.17 208.17 415.00 212.00 417.00 C215.83 419.00 219.67 422.50 224.00 426.00 C228.33 429.50 233.67 434.67 238.00 438.00 C242.33 441.33 246.73 443.83 250.00 446.00 C253.27 448.17 256.33 450.17 257.60 451.00"/>
<path d="M164.00 449.00 C166.67 448.83 174.00 448.83 180.00 448.00 C186.00 447.17 194.33 445.67 200.00 444.00 C205.67 442.33 209.00 440.33 214.00 438.00 C219.00 435.67 225.00 433.00 230.00 430.00 C235.00 427.00 239.40 423.33 244.00 420.00 C248.60 416.67 255.33 411.67 257.60 410.00"/>
<path d="M164.00 453.20 C166.67 453.03 174.00 452.73 180.00 452.20 C186.00 451.67 194.00 450.87 200.00 450.00 C206.00 449.13 211.00 448.33 216.00 447.00 C221.00 445.67 225.33 444.17 230.00 442.00 C234.67 439.83 239.40 436.83 244.00 434.00 C248.60 431.17 255.33 426.50 257.60 425.00"/>
<path d="M164.00 440.00 C165.67 438.67 170.17 433.83 174.00 432.00 C177.83 430.17 182.67 429.00 187.00 429.00 C191.33 429.00 195.50 429.83 200.00 432.00 C204.50 434.17 209.33 438.33 214.00 442.00 C218.67 445.67 224.50 450.83 228.00 454.00 C231.50 457.17 233.83 459.83 235.00 461.00"/>
<path d="M164.00 438.00 C166.00 437.67 171.67 435.67 176.00 436.00 C180.33 436.33 185.33 438.00 190.00 440.00 C194.67 442.00 199.67 445.00 204.00 448.00 C208.33 451.00 213.50 455.83 216.00 458.00 C218.50 460.17 218.50 460.50 219.00 461.00"/>
<path d="M164.00 451.60 C168.33 451.73 174.40 452.27 190.00 452.40 C205.60 452.53 246.33 452.40 257.60 452.40"/>
<path d="M164.00 455.00 C168.33 454.87 174.40 454.43 190.00 454.20 C205.60 453.97 246.33 453.70 257.60 453.60"/>
<path d="M164.00 457.00 C171.67 457.10 194.40 457.43 210.00 457.60 C225.60 457.77 249.67 457.93 257.60 458.00"/>
<path d="M230.00 461.00 C232.33 459.83 239.40 455.83 244.00 454.00 C248.60 452.17 255.33 450.67 257.60 450.00"/>
<path d="M164.00 442.00 C166.67 442.67 174.00 444.33 180.00 446.00 C186.00 447.67 194.33 449.50 200.00 452.00 C205.67 454.50 211.67 459.50 214.00 461.00"/>
<path d="M164.00 450.00 C166.00 450.67 171.67 452.17 176.00 454.00 C180.33 455.83 187.67 459.83 190.00 461.00"/>
<path d="M164.00 298.00 C165.57 299.53 169.80 303.13 173.40 307.20 C177.00 311.27 183.00 319.10 185.60 322.40 C188.20 325.70 188.43 326.23 189.00 327.00"/>
<path d="M164.00 308.60 C165.57 309.90 170.57 314.10 173.40 316.40 C176.23 318.70 178.90 320.80 181.00 322.40 C183.10 324.00 185.17 325.40 186.00 326.00"/>
</g>
<line x1="163.75" y1="370.45" x2="257.70" y2="370.45" stroke="#e8205a" stroke-width="1.25" stroke-dasharray="4.1 3.02"/>
<rect x="163.60" y="281.70" width="94.10" height="178.30" fill="none" stroke="#333" stroke-width="1.30"/>
<line x1="158.60" y1="460.00" x2="163.60" y2="460.00" stroke="#444" stroke-width="1.1"/>
<line x1="161.10" y1="445.14" x2="163.60" y2="445.14" stroke="#444" stroke-width="1.1"/>
<line x1="158.60" y1="430.28" x2="163.60" y2="430.28" stroke="#444" stroke-width="1.1"/>
<line x1="161.10" y1="415.43" x2="163.60" y2="415.43" stroke="#444" stroke-width="1.1"/>
<line x1="158.60" y1="400.57" x2="163.60" y2="400.57" stroke="#444" stroke-width="1.1"/>
<line x1="161.10" y1="385.71" x2="163.60" y2="385.71" stroke="#444" stroke-width="1.1"/>
<line x1="158.60" y1="370.85" x2="163.60" y2="370.85" stroke="#444" stroke-width="1.1"/>
<line x1="161.10" y1="355.99" x2="163.60" y2="355.99" stroke="#444" stroke-width="1.1"/>
<line x1="158.60" y1="341.13" x2="163.60" y2="341.13" stroke="#444" stroke-width="1.1"/>
<line x1="161.10" y1="326.27" x2="163.60" y2="326.27" stroke="#444" stroke-width="1.1"/>
<line x1="158.60" y1="311.42" x2="163.60" y2="311.42" stroke="#444" stroke-width="1.1"/>
<line x1="161.10" y1="296.56" x2="163.60" y2="296.56" stroke="#444" stroke-width="1.1"/>
<line x1="158.60" y1="281.70" x2="163.60" y2="281.70" stroke="#444" stroke-width="1.1"/>
<text x="155.90" y="463.00" text-anchor="end" class="tl" style="font-size:10.4px">-3</text>
<text x="155.90" y="433.28" text-anchor="end" class="tl" style="font-size:10.4px">-2</text>
<text x="155.90" y="403.57" text-anchor="end" class="tl" style="font-size:10.4px">-1</text>
<text x="155.90" y="373.85" text-anchor="end" class="tl" style="font-size:10.4px">0</text>
<text x="155.90" y="344.13" text-anchor="end" class="tl" style="font-size:10.4px">1</text>
<text x="155.90" y="314.42" text-anchor="end" class="tl" style="font-size:10.4px">2</text>
<text x="155.90" y="284.70" text-anchor="end" class="tl" style="font-size:10.4px">3</text>
<text transform="translate(146.50 368.25) rotate(-90)" text-anchor="middle" class="yl" style="font-size:11px">Energy (eV)</text>
<text x="162.90" y="475.20" text-anchor="middle" class="kl">Γ</text>
<text x="255.10" y="474.20" text-anchor="middle" class="kl">X</text>
<text x="211.00" y="267.90" text-anchor="middle" class="tt">ε= -5%</text>
<text x="206.50" y="491.60" text-anchor="middle" class="pl">(g)</text>
<clipPath id="ch"><rect x="296.30" y="281.70" width="94.40" height="178.30"/></clipPath>
<g clip-path="url(#ch)" fill="none" stroke="#000" stroke-width="1.65" stroke-linejoin="round">
<path stroke-width="1.10" d="M296.20 290.60 C298.17 293.43 304.03 301.53 308.00 307.60 C311.97 313.67 318.00 323.77 320.00 327.00"/>
<path d="M320.00 327.00 C322.67 330.83 331.00 342.77 336.00 350.00 C341.00 357.23 344.30 363.27 350.00 370.40 C355.70 377.53 363.43 385.37 370.20 392.80 C376.97 400.23 387.20 411.30 390.60 415.00"/>
<path stroke-width="1.10" d="M296.20 293.40 C298.17 296.23 304.37 305.03 308.00 310.40 C311.63 315.77 315.67 322.60 318.00 325.60 C320.33 328.60 321.33 327.93 322.00 328.40"/>
<path d="M321.40 328.00 C322.83 328.33 327.23 329.73 330.00 330.00 C332.77 330.27 335.00 330.27 338.00 329.60 C341.00 328.93 344.33 328.27 348.00 326.00 C351.67 323.73 356.00 319.33 360.00 316.00 C364.00 312.67 366.90 309.17 372.00 306.00 C377.10 302.83 387.50 298.50 390.60 297.00"/>
<path d="M320.00 327.00 C322.00 328.83 327.67 334.90 332.00 338.00 C336.33 341.10 341.33 344.77 346.00 345.60 C350.67 346.43 355.33 345.27 360.00 343.00 C364.67 340.73 368.90 335.83 374.00 332.00 C379.10 328.17 387.83 322.00 390.60 320.00"/>
<path d="M296.20 312.40 C301.50 312.40 318.70 312.30 328.00 312.40 C337.30 312.50 344.67 312.40 352.00 313.00 C359.33 313.60 365.57 314.83 372.00 316.00 C378.43 317.17 387.50 319.33 390.60 320.00"/>
<path d="M296.20 328.00 C301.50 328.00 319.37 327.93 328.00 328.00 C336.63 328.07 341.33 328.07 348.00 328.40 C354.67 328.73 362.67 329.23 368.00 330.00 C373.33 330.77 376.23 332.07 380.00 333.00 C383.77 333.93 388.83 335.17 390.60 335.60"/>
<path d="M296.20 322.00 C298.17 322.10 304.03 322.10 308.00 322.60 C311.97 323.10 318.00 324.60 320.00 325.00"/>
<path d="M296.20 293.00 C297.83 293.10 303.37 294.10 306.00 293.60 C308.63 293.10 310.50 291.43 312.00 290.00 C313.50 288.57 314.23 286.67 315.00 285.00 C315.77 283.33 316.33 280.83 316.60 280.00"/>
<path d="M306.00 310.00 C307.00 308.50 310.00 303.33 312.00 301.00 C314.00 298.67 315.33 296.83 318.00 296.00 C320.67 295.17 323.00 295.67 328.00 296.00 C333.00 296.33 341.33 297.17 348.00 298.00 C354.67 298.83 363.00 300.67 368.00 301.00 C373.00 301.33 374.23 300.67 378.00 300.00 C381.77 299.33 388.50 297.50 390.60 297.00"/>
<path d="M342.00 280.00 C342.33 280.27 340.00 280.27 344.00 281.60 C348.00 282.93 358.23 286.27 366.00 288.00 C373.77 289.73 386.50 291.33 390.60 292.00"/>
<path d="M364.00 281.60 C366.33 282.50 373.57 285.33 378.00 287.00 C382.43 288.67 388.50 290.83 390.60 291.60"/>
<path d="M354.00 281.60 C357.00 283.00 365.90 287.87 372.00 290.00 C378.10 292.13 387.50 293.67 390.60 294.40"/>
<path d="M296.20 287.20 L300.80 280.00"/>
<path d="M296.20 301.00 C297.73 299.20 302.90 293.70 305.40 290.20 C307.90 286.70 310.23 281.70 311.20 280.00"/>
<path d="M296.20 313.20 C298.50 310.90 305.77 304.93 310.00 299.40 C314.23 293.87 319.67 283.23 321.60 280.00"/>
<path d="M299.20 320.40 C302.27 317.43 311.80 309.33 317.60 302.60 C323.40 295.87 331.27 283.77 334.00 280.00"/>
<path d="M311.40 322.40 C314.23 319.33 323.03 310.37 328.40 304.00 C333.77 297.63 340.60 288.20 343.60 284.20 C346.60 280.20 345.93 280.70 346.40 280.00"/>
<path d="M296.20 297.60 C297.73 299.43 301.83 304.47 305.40 308.60 C308.97 312.73 315.00 319.43 317.60 322.40 C320.20 325.37 320.43 325.73 321.00 326.40"/>
<path d="M296.20 308.60 C297.73 309.90 302.60 314.10 305.40 316.40 C308.20 318.70 311.23 320.97 313.00 322.40 C314.77 323.83 315.50 324.57 316.00 325.00"/>
<path d="M350.00 370.40 C353.00 367.33 361.23 357.80 368.00 352.00 C374.77 346.20 386.83 338.33 390.60 335.60"/>
<path d="M322.20 325.00 C325.27 321.77 335.23 311.13 340.60 305.60 C345.97 300.07 350.10 296.07 354.40 291.80 C358.70 287.53 364.40 281.97 366.40 280.00"/>
<path d="M296.20 303.00 C298.17 305.17 304.03 311.83 308.00 316.00 C311.97 320.17 318.00 326.00 320.00 328.00"/>
<path d="M350.00 370.00 C347.67 372.67 341.00 380.00 336.00 386.00 C331.00 392.00 324.67 399.67 320.00 406.00 C315.33 412.33 311.33 419.17 308.00 424.00 C304.67 428.83 301.97 432.93 300.00 435.00 C298.03 437.07 296.83 436.17 296.20 436.40"/>
<path d="M296.20 436.40 C297.50 435.27 301.37 432.17 304.00 429.60 C306.63 427.03 309.00 424.93 312.00 421.00 C315.00 417.07 318.67 409.83 322.00 406.00 C325.33 402.17 328.33 400.00 332.00 398.00 C335.67 396.00 340.00 394.17 344.00 394.00 C348.00 393.83 352.00 394.67 356.00 397.00 C360.00 399.33 364.00 404.17 368.00 408.00 C372.00 411.83 376.23 416.33 380.00 420.00 C383.77 423.67 388.83 428.33 390.60 430.00"/>
<path d="M302.00 436.00 C303.67 434.00 308.67 427.17 312.00 424.00 C315.33 420.83 318.67 418.67 322.00 417.00 C325.33 415.33 328.33 413.83 332.00 414.00 C335.67 414.17 340.00 415.67 344.00 418.00 C348.00 420.33 352.00 424.33 356.00 428.00 C360.00 431.67 364.00 436.00 368.00 440.00 C372.00 444.00 376.67 448.50 380.00 452.00 C383.33 455.50 386.67 459.50 388.00 461.00"/>
<path d="M296.20 454.00 C299.83 454.00 312.03 454.33 318.00 454.00 C323.97 453.67 327.00 453.67 332.00 452.00 C337.00 450.33 342.67 447.00 348.00 444.00 C353.33 441.00 359.00 437.33 364.00 434.00 C369.00 430.67 373.57 427.17 378.00 424.00 C382.43 420.83 388.50 416.50 390.60 415.00"/>
<path d="M338.00 456.00 C339.67 455.67 343.67 455.67 348.00 454.00 C352.33 452.33 359.00 448.67 364.00 446.00 C369.00 443.33 373.57 440.67 378.00 438.00 C382.43 435.33 388.50 431.33 390.60 430.00"/>
<path d="M296.20 440.00 C297.83 438.67 302.37 434.00 306.00 432.00 C309.63 430.00 313.67 428.00 318.00 428.00 C322.33 428.00 327.33 429.33 332.00 432.00 C336.67 434.67 341.67 440.00 346.00 444.00 C350.33 448.00 355.27 453.17 358.00 456.00 C360.73 458.83 361.67 460.17 362.40 461.00"/>
<path d="M296.20 438.00 C298.17 437.50 304.03 434.67 308.00 435.00 C311.97 435.33 315.67 437.50 320.00 440.00 C324.33 442.50 329.93 446.50 334.00 450.00 C338.07 453.50 342.67 459.17 344.40 461.00"/>
<path d="M296.20 456.40 C301.50 456.33 312.27 456.07 328.00 456.00 C343.73 455.93 380.17 456.00 390.60 456.00"/>
<path d="M296.20 458.40 C301.50 458.33 312.27 458.13 328.00 458.00 C343.73 457.87 380.17 457.67 390.60 457.60"/>
<path d="M296.20 442.00 C297.83 442.67 302.70 444.00 306.00 446.00 C309.30 448.00 313.33 451.50 316.00 454.00 C318.67 456.50 321.00 459.83 322.00 461.00"/>
<path d="M296.20 445.00 C297.50 445.83 301.37 447.67 304.00 450.00 C306.63 452.33 310.40 457.17 312.00 459.00 C313.60 460.83 313.33 460.67 313.60 461.00"/>
<path d="M296.20 436.00 C298.17 437.00 304.37 439.67 308.00 442.00 C311.63 444.33 314.67 446.83 318.00 450.00 C321.33 453.17 326.33 459.17 328.00 461.00"/>
<path d="M296.20 446.00 C298.83 446.67 306.70 448.00 312.00 450.00 C317.30 452.00 324.33 456.17 328.00 458.00 C331.67 459.83 333.00 460.50 334.00 461.00"/>
<path d="M296.20 450.00 C298.17 450.67 304.37 452.17 308.00 454.00 C311.63 455.83 316.33 459.83 318.00 461.00"/>
<path d="M296.20 443.00 C299.83 443.83 311.70 446.17 318.00 448.00 C324.30 449.83 329.00 451.83 334.00 454.00 C339.00 456.17 345.67 459.83 348.00 461.00"/>
</g>
<line x1="296.45" y1="370.45" x2="390.70" y2="370.45" stroke="#e8205a" stroke-width="1.25" stroke-dasharray="4.1 3.02"/>
<rect x="296.30" y="281.70" width="94.40" height="178.30" fill="none" stroke="#333" stroke-width="1.30"/>
<line x1="291.30" y1="460.00" x2="296.30" y2="460.00" stroke="#444" stroke-width="1.1"/>
<line x1="293.80" y1="445.14" x2="296.30" y2="445.14" stroke="#444" stroke-width="1.1"/>
<line x1="291.30" y1="430.28" x2="296.30" y2="430.28" stroke="#444" stroke-width="1.1"/>
<line x1="293.80" y1="415.43" x2="296.30" y2="415.43" stroke="#444" stroke-width="1.1"/>
<line x1="291.30" y1="400.57" x2="296.30" y2="400.57" stroke="#444" stroke-width="1.1"/>
<line x1="293.80" y1="385.71" x2="296.30" y2="385.71" stroke="#444" stroke-width="1.1"/>
<line x1="291.30" y1="370.85" x2="296.30" y2="370.85" stroke="#444" stroke-width="1.1"/>
<line x1="293.80" y1="355.99" x2="296.30" y2="355.99" stroke="#444" stroke-width="1.1"/>
<line x1="291.30" y1="341.13" x2="296.30" y2="341.13" stroke="#444" stroke-width="1.1"/>
<line x1="293.80" y1="326.27" x2="296.30" y2="326.27" stroke="#444" stroke-width="1.1"/>
<line x1="291.30" y1="311.42" x2="296.30" y2="311.42" stroke="#444" stroke-width="1.1"/>
<line x1="293.80" y1="296.56" x2="296.30" y2="296.56" stroke="#444" stroke-width="1.1"/>
<line x1="291.30" y1="281.70" x2="296.30" y2="281.70" stroke="#444" stroke-width="1.1"/>
<text x="288.60" y="463.00" text-anchor="end" class="tl" style="font-size:10.4px">-3</text>
<text x="288.60" y="433.28" text-anchor="end" class="tl" style="font-size:10.4px">-2</text>
<text x="288.60" y="403.57" text-anchor="end" class="tl" style="font-size:10.4px">-1</text>
<text x="288.60" y="373.85" text-anchor="end" class="tl" style="font-size:10.4px">0</text>
<text x="288.60" y="344.13" text-anchor="end" class="tl" style="font-size:10.4px">1</text>
<text x="288.60" y="314.42" text-anchor="end" class="tl" style="font-size:10.4px">2</text>
<text x="288.60" y="284.70" text-anchor="end" class="tl" style="font-size:10.4px">3</text>
<text transform="translate(279.70 368.85) rotate(-90)" text-anchor="middle" class="yl" style="font-size:11px">Energy (eV)</text>
<text x="298.90" y="473.20" text-anchor="middle" class="kl">Γ</text>
<text x="389.70" y="471.95" text-anchor="middle" class="kl">X</text>
<text x="345.60" y="267.90" text-anchor="middle" class="tt">ε= -7%</text>
<text x="345.20" y="491.60" text-anchor="middle" class="pl">(h)</text>
<clipPath id="ci"><rect x="440.40" y="281.70" width="94.10" height="178.30"/></clipPath>
<g clip-path="url(#ci)" fill="none" stroke="#000" stroke-width="1.65" stroke-linejoin="round">
<path stroke-width="1.10" d="M440.40 290.60 C442.33 293.43 448.23 301.70 452.00 307.60 C455.77 313.50 461.17 322.93 463.00 326.00"/>
<path d="M463.00 326.00 C465.50 330.00 473.17 342.60 478.00 350.00 C482.83 357.40 486.13 362.57 492.00 370.40 C497.87 378.23 506.13 388.23 513.20 397.00 C520.27 405.77 530.87 418.67 534.40 423.00"/>
<path stroke-width="1.10" d="M440.40 293.40 C442.33 296.23 448.57 305.13 452.00 310.40 C455.43 315.67 458.83 322.13 461.00 325.00 C463.17 327.87 464.33 327.17 465.00 327.60"/>
<path d="M464.40 327.20 C466.00 327.50 471.07 328.80 474.00 329.00 C476.93 329.20 478.67 329.23 482.00 328.40 C485.33 327.57 490.00 326.07 494.00 324.00 C498.00 321.93 502.00 318.67 506.00 316.00 C510.00 313.33 513.27 310.50 518.00 308.00 C522.73 305.50 531.67 302.17 534.40 301.00"/>
<path d="M462.00 326.00 C464.00 328.00 469.67 334.60 474.00 338.00 C478.33 341.40 483.33 345.40 488.00 346.40 C492.67 347.40 497.33 346.07 502.00 344.00 C506.67 341.93 510.60 337.73 516.00 334.00 C521.40 330.27 531.33 323.67 534.40 321.60"/>
<path d="M440.40 318.40 C445.33 318.40 461.07 318.63 470.00 318.40 C478.93 318.17 486.67 317.07 494.00 317.00 C501.33 316.93 507.27 317.23 514.00 318.00 C520.73 318.77 531.00 321.00 534.40 321.60"/>
<path d="M440.40 335.00 C445.33 334.83 460.07 334.50 470.00 334.00 C479.93 333.50 491.67 332.07 500.00 332.00 C508.33 331.93 514.27 332.93 520.00 333.60 C525.73 334.27 532.00 335.60 534.40 336.00"/>
<path d="M440.40 321.00 C442.67 321.17 450.07 321.50 454.00 322.00 C457.93 322.50 462.33 323.67 464.00 324.00"/>
<path d="M440.40 295.00 C441.67 295.17 445.73 296.50 448.00 296.00 C450.27 295.50 452.50 293.67 454.00 292.00 C455.50 290.33 456.17 288.00 457.00 286.00 C457.83 284.00 458.67 281.00 459.00 280.00"/>
<path d="M448.00 314.00 C448.67 313.00 450.33 310.00 452.00 308.00 C453.67 306.00 456.00 303.17 458.00 302.00 C460.00 300.83 460.33 301.17 464.00 301.00 C467.67 300.83 474.00 300.67 480.00 301.00 C486.00 301.33 494.00 302.67 500.00 303.00 C506.00 303.33 510.27 303.33 516.00 303.00 C521.73 302.67 531.33 301.33 534.40 301.00"/>
<path d="M492.00 370.40 C495.33 367.33 504.93 357.73 512.00 352.00 C519.07 346.27 530.67 338.67 534.40 336.00"/>
<path d="M440.40 303.00 C442.33 305.17 448.07 311.83 452.00 316.00 C455.93 320.17 462.00 326.00 464.00 328.00"/>
<path d="M492.00 370.00 C489.67 372.67 482.67 380.00 478.00 386.00 C473.33 392.00 468.33 399.67 464.00 406.00 C459.67 412.33 455.00 419.83 452.00 424.00 C449.00 428.17 447.93 429.50 446.00 431.00 C444.07 432.50 441.33 432.67 440.40 433.00"/>
<path d="M454.00 428.00 C455.67 425.33 460.67 416.67 464.00 412.00 C467.33 407.33 470.33 402.83 474.00 400.00 C477.67 397.17 482.00 395.33 486.00 395.00 C490.00 394.67 494.00 395.50 498.00 398.00 C502.00 400.50 505.67 405.67 510.00 410.00 C514.33 414.33 519.93 419.67 524.00 424.00 C528.07 428.33 532.67 434.00 534.40 436.00"/>
<path d="M448.00 434.00 C449.67 432.33 455.00 426.83 458.00 424.00 C461.00 421.17 463.50 418.50 466.00 417.00 C468.50 415.50 470.00 414.83 473.00 415.00 C476.00 415.17 480.17 415.83 484.00 418.00 C487.83 420.17 491.67 424.00 496.00 428.00 C500.33 432.00 505.67 437.67 510.00 442.00 C514.33 446.33 518.83 450.83 522.00 454.00 C525.17 457.17 527.83 459.83 529.00 461.00"/>
<path d="M440.40 435.00 C442.00 434.33 446.73 432.00 450.00 431.00 C453.27 430.00 456.33 428.83 460.00 429.00 C463.67 429.17 468.00 429.83 472.00 432.00 C476.00 434.17 480.00 438.33 484.00 442.00 C488.00 445.67 492.93 450.83 496.00 454.00 C499.07 457.17 501.33 459.83 502.40 461.00"/>
<path d="M484.00 461.00 C486.00 459.50 491.67 455.17 496.00 452.00 C500.33 448.83 505.67 445.33 510.00 442.00 C514.33 438.67 517.93 435.17 522.00 432.00 C526.07 428.83 532.33 424.50 534.40 423.00"/>
<path d="M502.40 461.00 C503.67 459.83 506.73 456.50 510.00 454.00 C513.27 451.50 517.93 449.00 522.00 446.00 C526.07 443.00 532.33 437.67 534.40 436.00"/>
<path d="M440.40 430.00 C441.33 430.27 443.40 430.60 446.00 431.60 C448.60 432.60 452.67 433.93 456.00 436.00 C459.33 438.07 462.67 441.00 466.00 444.00 C469.33 447.00 473.27 451.17 476.00 454.00 C478.73 456.83 481.33 459.83 482.40 461.00"/>
<path d="M440.40 438.00 C442.67 439.00 450.07 441.33 454.00 444.00 C457.93 446.67 461.33 451.17 464.00 454.00 C466.67 456.83 469.00 459.83 470.00 461.00"/>
<path d="M440.40 442.00 C442.00 443.00 446.73 444.83 450.00 448.00 C453.27 451.17 458.33 458.83 460.00 461.00"/>
<path d="M440.40 446.00 C441.67 447.33 446.07 451.50 448.00 454.00 C449.93 456.50 451.33 459.83 452.00 461.00"/>
<path d="M440.40 450.00 C441.33 451.00 444.57 454.17 446.00 456.00 C447.43 457.83 448.50 460.17 449.00 461.00"/>
<path d="M440.40 434.00 C442.33 434.50 448.40 435.00 452.00 437.00 C455.60 439.00 458.67 442.00 462.00 446.00 C465.33 450.00 470.33 458.50 472.00 461.00"/>
<path d="M440.40 432.00 C442.00 432.50 446.73 433.33 450.00 435.00 C453.27 436.67 456.67 439.17 460.00 442.00 C463.33 444.83 467.27 448.83 470.00 452.00 C472.73 455.17 475.33 459.50 476.40 461.00"/>
<path d="M440.40 436.40 C441.67 437.07 445.07 438.40 448.00 440.40 C450.93 442.40 455.00 445.47 458.00 448.40 C461.00 451.33 464.27 455.90 466.00 458.00 C467.73 460.10 468.00 460.50 468.40 461.00"/>
<path d="M440.40 440.40 C441.67 441.23 445.40 443.07 448.00 445.40 C450.60 447.73 453.93 451.80 456.00 454.40 C458.07 457.00 459.67 459.90 460.40 461.00"/>
<path d="M440.40 444.40 C441.33 445.40 444.00 447.63 446.00 450.40 C448.00 453.17 451.33 459.23 452.40 461.00"/>
<path d="M440.40 454.00 L444.40 461.00"/>
<path d="M440.40 288.80 L446.40 280.00"/>
<path d="M440.40 302.60 C442.13 300.53 447.87 293.97 450.80 290.20 C453.73 286.43 456.80 281.70 458.00 280.00"/>
<path d="M440.40 314.80 C442.67 312.50 449.57 306.80 454.00 301.00 C458.43 295.20 464.83 283.50 467.00 280.00"/>
<path d="M444.80 320.40 C447.60 317.43 456.33 309.33 461.60 302.60 C466.87 295.87 473.93 283.77 476.40 280.00"/>
<path d="M455.40 322.40 C458.23 319.33 467.27 310.37 472.40 304.00 C477.53 297.63 483.43 288.20 486.20 284.20 C488.97 280.20 488.53 280.70 489.00 280.00"/>
<path d="M440.40 283.20 C443.67 283.17 453.40 283.07 460.00 283.00 C466.60 282.93 472.17 282.83 480.00 282.80 C487.83 282.77 500.87 282.30 507.00 282.80 C513.13 283.30 513.67 284.90 516.80 285.80 C519.93 286.70 522.87 287.40 525.80 288.20 C528.73 289.00 532.97 290.20 534.40 290.60"/>
<path d="M470.00 284.00 C471.67 284.17 476.97 284.57 480.00 285.00 C483.03 285.43 485.47 285.93 488.20 286.60 C490.93 287.27 493.67 288.07 496.40 289.00 C499.13 289.93 501.87 291.10 504.60 292.20 C507.33 293.30 510.10 294.63 512.80 295.60 C515.50 296.57 517.20 297.47 520.80 298.00 C524.40 298.53 532.13 298.67 534.40 298.80"/>
<path d="M482.00 281.00 C482.77 281.37 484.20 281.33 486.60 283.20 C489.00 285.07 492.73 289.73 496.40 292.20 C500.07 294.67 505.20 296.50 508.60 298.00 C512.00 299.50 514.07 300.80 516.80 301.20 C519.53 301.60 522.07 300.93 525.00 300.40 C527.93 299.87 532.83 298.40 534.40 298.00"/>
<path d="M464.00 324.00 C465.33 322.83 468.93 319.33 472.00 317.00 C475.07 314.67 479.03 312.90 482.40 310.00 C485.77 307.10 489.20 302.83 492.20 299.60 C495.20 296.37 497.60 293.87 500.40 290.60 C503.20 287.33 507.57 281.77 509.00 280.00"/>
<path d="M497.00 317.20 C498.67 316.00 504.10 312.23 507.00 310.00 C509.90 307.77 511.80 305.80 514.40 303.80 C517.00 301.80 519.27 300.20 522.60 298.00 C525.93 295.80 532.43 291.83 534.40 290.60"/>
<path d="M506.00 284.00 C507.13 284.70 510.33 286.70 512.80 288.20 C515.27 289.70 518.10 291.63 520.80 293.00 C523.50 294.37 526.73 295.57 529.00 296.40 C531.27 297.23 533.50 297.73 534.40 298.00"/>
<path d="M440.40 309.00 C442.33 306.67 448.33 299.83 452.00 295.00 C455.67 290.17 460.67 282.50 462.40 280.00"/>
<path d="M450.00 324.40 C452.83 320.83 461.50 310.40 467.00 303.00 C472.50 295.60 480.33 283.83 483.00 280.00"/>
<path d="M440.40 294.00 C442.00 295.67 446.73 300.33 450.00 304.00 C453.27 307.67 457.50 312.67 460.00 316.00 C462.50 319.33 464.17 322.67 465.00 324.00"/>
<path d="M440.40 304.00 C442.00 305.33 446.73 309.00 450.00 312.00 C453.27 315.00 458.33 320.33 460.00 322.00"/>
<path d="M440.40 288.00 C441.67 289.17 445.40 292.83 448.00 295.00 C450.60 297.17 453.67 299.17 456.00 301.00 C458.33 302.83 461.00 305.17 462.00 306.00"/>
</g>
<line x1="440.55" y1="370.45" x2="534.50" y2="370.45" stroke="#e8205a" stroke-width="1.25" stroke-dasharray="4.1 3.02"/>
<rect x="440.40" y="281.70" width="94.10" height="178.30" fill="none" stroke="#333" stroke-width="1.30"/>
<line x1="435.40" y1="460.00" x2="440.40" y2="460.00" stroke="#444" stroke-width="1.1"/>
<line x1="437.90" y1="445.14" x2="440.40" y2="445.14" stroke="#444" stroke-width="1.1"/>
<line x1="435.40" y1="430.28" x2="440.40" y2="430.28" stroke="#444" stroke-width="1.1"/>
<line x1="437.90" y1="415.43" x2="440.40" y2="415.43" stroke="#444" stroke-width="1.1"/>
<line x1="435.40" y1="400.57" x2="440.40" y2="400.57" stroke="#444" stroke-width="1.1"/>
<line x1="437.90" y1="385.71" x2="440.40" y2="385.71" stroke="#444" stroke-width="1.1"/>
<line x1="435.40" y1="370.85" x2="440.40" y2="370.85" stroke="#444" stroke-width="1.1"/>
<line x1="437.90" y1="355.99" x2="440.40" y2="355.99" stroke="#444" stroke-width="1.1"/>
<line x1="435.40" y1="341.13" x2="440.40" y2="341.13" stroke="#444" stroke-width="1.1"/>
<line x1="437.90" y1="326.27" x2="440.40" y2="326.27" stroke="#444" stroke-width="1.1"/>
<line x1="435.40" y1="311.42" x2="440.40" y2="311.42" stroke="#444" stroke-width="1.1"/>
<line x1="437.90" y1="296.56" x2="440.40" y2="296.56" stroke="#444" stroke-width="1.1"/>
<line x1="435.40" y1="281.70" x2="440.40" y2="281.70" stroke="#444" stroke-width="1.1"/>
<text x="432.70" y="463.00" text-anchor="end" class="tl" style="font-size:10.4px">-3</text>
<text x="432.70" y="433.28" text-anchor="end" class="tl" style="font-size:10.4px">-2</text>
<text x="432.70" y="403.57" text-anchor="end" class="tl" style="font-size:10.4px">-1</text>
<text x="432.70" y="373.85" text-anchor="end" class="tl" style="font-size:10.4px">0</text>
<text x="432.70" y="344.13" text-anchor="end" class="tl" style="font-size:10.4px">1</text>
<text x="432.70" y="314.42" text-anchor="end" class="tl" style="font-size:10.4px">2</text>
<text x="432.70" y="284.70" text-anchor="end" class="tl" style="font-size:10.4px">3</text>
<text transform="translate(423.30 368.95) rotate(-90)" text-anchor="middle" class="yl" style="font-size:11px">Energy (eV)</text>
<text x="442.75" y="473.20" text-anchor="middle" class="kl">Γ</text>
<text x="535.00" y="472.20" text-anchor="middle" class="kl">X</text>
<text x="481.00" y="267.90" text-anchor="middle" class="tt">ε= -9%</text>
<text x="490.40" y="491.60" text-anchor="middle" class="pl">(i)</text>
<clipPath id="cj"><rect x="583.70" y="281.70" width="94.40" height="178.30"/></clipPath>
<g clip-path="url(#cj)" fill="none" stroke="#000" stroke-width="1.65" stroke-linejoin="round">
<path d="M583.60 285.60 C586.00 285.67 592.93 285.77 598.00 286.00 C603.07 286.23 608.33 287.17 614.00 287.00 C619.67 286.83 627.00 285.77 632.00 285.00 C637.00 284.23 640.67 283.07 644.00 282.40 C647.33 281.73 650.67 281.23 652.00 281.00"/>
<path d="M583.60 290.00 C586.33 290.07 594.93 290.33 600.00 290.40 C605.07 290.47 608.67 290.80 614.00 290.40 C619.33 290.00 626.33 288.90 632.00 288.00 C637.67 287.10 642.67 285.93 648.00 285.00 C653.33 284.07 659.00 282.97 664.00 282.40 C669.00 281.83 675.67 281.73 678.00 281.60"/>
<path d="M583.60 304.40 C586.00 304.50 592.93 305.07 598.00 305.00 C603.07 304.93 608.33 305.17 614.00 304.00 C619.67 302.83 627.00 300.00 632.00 298.00 C637.00 296.00 639.67 294.00 644.00 292.00 C648.33 290.00 652.33 287.67 658.00 286.00 C663.67 284.33 674.67 282.67 678.00 282.00"/>
<path d="M583.60 306.00 C587.67 305.93 600.60 305.67 608.00 305.60 C615.40 305.53 621.33 305.53 628.00 305.60 C634.67 305.67 639.67 305.93 648.00 306.00 C656.33 306.07 673.00 306.00 678.00 306.00"/>
<path d="M583.60 303.60 C586.33 303.73 595.93 304.07 600.00 304.40 C604.07 304.73 606.67 305.40 608.00 305.60"/>
<path d="M583.60 305.20 C586.00 305.33 594.27 305.53 598.00 306.00 C601.73 306.47 604.67 307.67 606.00 308.00"/>
<path d="M583.60 311.00 C586.00 311.17 593.27 311.17 598.00 312.00 C602.73 312.83 608.00 314.50 612.00 316.00 C616.00 317.50 618.67 319.33 622.00 321.00 C625.33 322.67 628.33 324.50 632.00 326.00 C635.67 327.50 639.67 329.00 644.00 330.00 C648.33 331.00 654.00 332.07 658.00 332.00 C662.00 331.93 664.67 330.77 668.00 329.60 C671.33 328.43 676.33 325.77 678.00 325.00"/>
<path d="M583.60 314.00 C586.00 314.17 593.27 314.17 598.00 315.00 C602.73 315.83 607.67 317.33 612.00 319.00 C616.33 320.67 620.33 323.17 624.00 325.00 C627.67 326.83 630.00 328.67 634.00 330.00 C638.00 331.33 643.00 332.60 648.00 333.00 C653.00 333.40 659.00 333.17 664.00 332.40 C669.00 331.63 675.67 329.07 678.00 328.40"/>
<path d="M583.60 316.00 C586.00 316.33 592.93 316.93 598.00 318.00 C603.07 319.07 609.00 320.67 614.00 322.40 C619.00 324.13 624.00 326.47 628.00 328.40 C632.00 330.33 634.00 332.13 638.00 334.00 C642.00 335.87 647.00 337.93 652.00 339.60 C657.00 341.27 663.67 343.10 668.00 344.00 C672.33 344.90 676.33 344.83 678.00 345.00"/>
<path d="M602.00 304.00 C603.00 304.67 605.33 305.50 608.00 308.00 C610.67 310.50 615.00 316.17 618.00 319.00 C621.00 321.83 623.33 322.17 626.00 325.00 C628.67 327.83 631.67 332.50 634.00 336.00 C636.33 339.50 637.83 342.33 640.00 346.00 C642.17 349.67 644.83 354.17 647.00 358.00 C649.17 361.83 651.00 365.67 653.00 369.00 C655.00 372.33 657.17 375.50 659.00 378.00 C660.83 380.50 661.83 381.67 664.00 384.00 C666.17 386.33 669.67 390.00 672.00 392.00 C674.33 394.00 677.00 395.33 678.00 396.00"/>
<path d="M583.60 337.00 C587.00 336.90 597.27 336.57 604.00 336.40 C610.73 336.23 619.00 335.73 624.00 336.00 C629.00 336.27 630.00 337.00 634.00 338.00 C638.00 339.00 643.00 340.83 648.00 342.00 C653.00 343.17 659.00 344.50 664.00 345.00 C669.00 345.50 675.67 345.00 678.00 345.00"/>
<path d="M583.60 351.00 C587.67 350.67 600.60 349.67 608.00 349.00 C615.40 348.33 622.33 347.33 628.00 347.00 C633.67 346.67 638.00 346.67 642.00 347.00 C646.00 347.33 648.33 348.33 652.00 349.00 C655.67 349.67 659.67 350.33 664.00 351.00 C668.33 351.67 675.67 352.67 678.00 353.00"/>
<path d="M642.00 374.00 C643.00 373.33 645.33 371.67 648.00 370.00 C650.67 368.33 654.67 365.67 658.00 364.00 C661.33 362.33 664.67 361.17 668.00 360.00 C671.33 358.83 676.33 357.50 678.00 357.00"/>
<path d="M618.00 310.00 C620.33 310.33 627.00 310.83 632.00 312.00 C637.00 313.17 642.67 315.33 648.00 317.00 C653.33 318.67 659.00 320.67 664.00 322.00 C669.00 323.33 675.67 324.50 678.00 325.00"/>
<path d="M608.00 316.00 C610.00 316.47 616.00 317.93 620.00 318.80 C624.00 319.67 628.00 320.70 632.00 321.20 C636.00 321.70 640.00 322.20 644.00 321.80 C648.00 321.40 652.00 320.30 656.00 318.80 C660.00 317.30 664.43 314.40 668.00 312.80 C671.57 311.20 675.83 309.80 677.40 309.20"/>
<path d="M608.00 306.00 C610.00 306.53 616.00 308.37 620.00 309.20 C624.00 310.03 628.00 311.20 632.00 311.00 C636.00 310.80 640.00 309.50 644.00 308.00 C648.00 306.50 653.00 304.00 656.00 302.00 C659.00 300.00 660.00 298.00 662.00 296.00 C664.00 294.00 665.43 291.60 668.00 290.00 C670.57 288.40 675.83 287.00 677.40 286.40"/>
<path d="M634.00 280.00 C634.67 280.27 635.33 280.33 638.00 281.60 C640.67 282.87 646.00 285.60 650.00 287.60 C654.00 289.60 658.60 291.80 662.00 293.60 C665.40 295.40 667.83 296.70 670.40 298.40 C672.97 300.10 676.23 302.90 677.40 303.80"/>
<path d="M644.00 281.60 C646.00 282.67 652.00 285.60 656.00 288.00 C660.00 290.40 664.33 294.00 668.00 296.00 C671.67 298.00 676.33 299.33 678.00 300.00"/>
<path d="M656.00 281.60 C658.00 282.17 664.33 283.93 668.00 285.00 C671.67 286.07 676.33 287.50 678.00 288.00"/>
<path d="M634.00 336.00 C636.33 335.33 643.67 333.17 648.00 332.00 C652.33 330.83 655.00 330.00 660.00 329.00 C665.00 328.00 675.00 326.50 678.00 326.00"/>
<path d="M652.00 348.00 C654.00 348.00 659.67 348.67 664.00 348.00 C668.33 347.33 675.67 344.67 678.00 344.00"/>
<path d="M583.60 385.00 C586.00 385.17 592.93 385.67 598.00 386.00 C603.07 386.33 609.67 387.17 614.00 387.00 C618.33 386.83 620.67 386.17 624.00 385.00 C627.33 383.83 630.67 381.67 634.00 380.00 C637.33 378.33 641.00 376.60 644.00 375.00 C647.00 373.40 649.33 372.07 652.00 370.40 C654.67 368.73 657.00 366.73 660.00 365.00 C663.00 363.27 667.00 361.33 670.00 360.00 C673.00 358.67 676.67 357.50 678.00 357.00"/>
<path d="M583.60 386.00 C587.67 386.27 601.27 387.53 608.00 387.60 C614.73 387.67 619.00 386.93 624.00 386.40 C629.00 385.87 634.00 384.60 638.00 384.40 C642.00 384.20 644.33 384.33 648.00 385.20 C651.67 386.07 656.00 388.13 660.00 389.60 C664.00 391.07 669.00 392.93 672.00 394.00 C675.00 395.07 677.00 395.67 678.00 396.00"/>
<path d="M583.60 392.60 C587.67 392.67 601.27 392.77 608.00 393.00 C614.73 393.23 619.33 393.17 624.00 394.00 C628.67 394.83 632.00 396.33 636.00 398.00 C640.00 399.67 644.00 402.33 648.00 404.00 C652.00 405.67 655.00 406.83 660.00 408.00 C665.00 409.17 675.00 410.50 678.00 411.00"/>
<path d="M583.60 401.60 C587.67 401.73 601.27 401.83 608.00 402.40 C614.73 402.97 619.67 403.73 624.00 405.00 C628.33 406.27 630.67 407.83 634.00 410.00 C637.33 412.17 640.67 415.33 644.00 418.00 C647.33 420.67 650.67 423.33 654.00 426.00 C657.33 428.67 661.00 431.93 664.00 434.00 C667.00 436.07 669.67 437.33 672.00 438.40 C674.33 439.47 677.00 440.07 678.00 440.40"/>
<path d="M583.60 403.00 C587.67 403.17 601.27 403.17 608.00 404.00 C614.73 404.83 619.33 406.00 624.00 408.00 C628.67 410.00 632.00 413.00 636.00 416.00 C640.00 419.00 644.33 422.67 648.00 426.00 C651.67 429.33 654.67 432.67 658.00 436.00 C661.33 439.33 664.67 443.00 668.00 446.00 C671.33 449.00 676.33 452.67 678.00 454.00"/>
<path d="M583.60 412.60 C587.67 412.77 601.60 412.87 608.00 413.60 C614.40 414.33 617.67 415.27 622.00 417.00 C626.33 418.73 630.00 421.17 634.00 424.00 C638.00 426.83 642.33 430.33 646.00 434.00 C649.67 437.67 653.00 442.33 656.00 446.00 C659.00 449.67 662.07 453.50 664.00 456.00 C665.93 458.50 667.00 460.17 667.60 461.00"/>
<path d="M583.60 423.40 C587.00 423.50 598.27 423.23 604.00 424.00 C609.73 424.77 614.00 426.33 618.00 428.00 C622.00 429.67 624.67 431.67 628.00 434.00 C631.33 436.33 634.67 439.33 638.00 442.00 C641.33 444.67 645.00 447.33 648.00 450.00 C651.00 452.67 654.27 456.17 656.00 458.00 C657.73 459.83 658.00 460.50 658.40 461.00"/>
<path d="M583.60 431.00 C586.00 431.33 593.27 431.83 598.00 433.00 C602.73 434.17 607.67 436.00 612.00 438.00 C616.33 440.00 620.33 443.33 624.00 445.00 C627.67 446.67 630.00 447.83 634.00 448.00 C638.00 448.17 643.67 447.00 648.00 446.00 C652.33 445.00 655.00 443.33 660.00 442.00 C665.00 440.67 675.00 438.67 678.00 438.00"/>
<path d="M583.60 434.00 C586.00 434.33 592.93 434.50 598.00 436.00 C603.07 437.50 609.00 441.00 614.00 443.00 C619.00 445.00 623.67 447.33 628.00 448.00 C632.33 448.67 635.33 447.83 640.00 447.00 C644.67 446.17 649.67 444.17 656.00 443.00 C662.33 441.83 674.33 440.50 678.00 440.00"/>
<path d="M583.60 437.00 C586.33 437.50 594.60 438.50 600.00 440.00 C605.40 441.50 611.33 444.33 616.00 446.00 C620.67 447.67 624.33 448.50 628.00 450.00 C631.67 451.50 635.00 453.17 638.00 455.00 C641.00 456.83 644.67 460.00 646.00 461.00"/>
<path d="M583.60 452.00 C587.67 451.83 600.60 450.67 608.00 451.00 C615.40 451.33 623.00 452.33 628.00 454.00 C633.00 455.67 636.33 459.83 638.00 461.00"/>
<path d="M652.00 461.00 C654.00 458.50 660.67 450.50 664.00 446.00 C667.33 441.50 669.67 437.33 672.00 434.00 C674.33 430.67 677.00 427.33 678.00 426.00"/>
<path d="M634.00 461.00 C636.33 458.50 643.67 450.83 648.00 446.00 C652.33 441.17 656.33 436.00 660.00 432.00 C663.67 428.00 667.00 424.67 670.00 422.00 C673.00 419.33 676.67 417.00 678.00 416.00"/>
<path d="M640.00 461.00 C642.33 459.17 649.33 453.50 654.00 450.00 C658.67 446.50 664.00 442.33 668.00 440.00 C672.00 437.67 676.33 436.67 678.00 436.00"/>
<path d="M668.00 461.00 C669.00 459.50 672.33 454.50 674.00 452.00 C675.67 449.50 677.33 447.00 678.00 446.00"/>
<path d="M583.60 459.00 L594.00 460.00"/>
<path d="M660.00 459.00 L678.00 458.40"/>
</g>
<line x1="583.85" y1="370.45" x2="678.10" y2="370.45" stroke="#e8205a" stroke-width="1.25" stroke-dasharray="4.1 3.02"/>
<rect x="583.70" y="281.70" width="94.40" height="178.30" fill="none" stroke="#333" stroke-width="1.30"/>
<line x1="578.70" y1="460.00" x2="583.70" y2="460.00" stroke="#444" stroke-width="1.1"/>
<line x1="581.20" y1="445.14" x2="583.70" y2="445.14" stroke="#444" stroke-width="1.1"/>
<line x1="578.70" y1="430.28" x2="583.70" y2="430.28" stroke="#444" stroke-width="1.1"/>
<line x1="581.20" y1="415.43" x2="583.70" y2="415.43" stroke="#444" stroke-width="1.1"/>
<line x1="578.70" y1="400.57" x2="583.70" y2="400.57" stroke="#444" stroke-width="1.1"/>
<line x1="581.20" y1="385.71" x2="583.70" y2="385.71" stroke="#444" stroke-width="1.1"/>
<line x1="578.70" y1="370.85" x2="583.70" y2="370.85" stroke="#444" stroke-width="1.1"/>
<line x1="581.20" y1="355.99" x2="583.70" y2="355.99" stroke="#444" stroke-width="1.1"/>
<line x1="578.70" y1="341.13" x2="583.70" y2="341.13" stroke="#444" stroke-width="1.1"/>
<line x1="581.20" y1="326.27" x2="583.70" y2="326.27" stroke="#444" stroke-width="1.1"/>
<line x1="578.70" y1="311.42" x2="583.70" y2="311.42" stroke="#444" stroke-width="1.1"/>
<line x1="581.20" y1="296.56" x2="583.70" y2="296.56" stroke="#444" stroke-width="1.1"/>
<line x1="578.70" y1="281.70" x2="583.70" y2="281.70" stroke="#444" stroke-width="1.1"/>
<text x="576.00" y="463.00" text-anchor="end" class="tl" style="font-size:10.4px">-3</text>
<text x="576.00" y="433.28" text-anchor="end" class="tl" style="font-size:10.4px">-2</text>
<text x="576.00" y="403.57" text-anchor="end" class="tl" style="font-size:10.4px">-1</text>
<text x="576.00" y="373.85" text-anchor="end" class="tl" style="font-size:10.4px">0</text>
<text x="576.00" y="344.13" text-anchor="end" class="tl" style="font-size:10.4px">1</text>
<text x="576.00" y="314.42" text-anchor="end" class="tl" style="font-size:10.4px">2</text>
<text x="576.00" y="284.70" text-anchor="end" class="tl" style="font-size:10.4px">3</text>
<text transform="translate(567.30 369.35) rotate(-90)" text-anchor="middle" class="yl" style="font-size:10px">Energy (eV)</text>
<text x="586.00" y="471.20" text-anchor="middle" class="kl">Γ</text>
<text x="679.50" y="471.95" text-anchor="middle" class="kl">X</text>
<text x="631.20" y="267.90" text-anchor="middle" class="tt">ε= -15%</text>
<text x="638.10" y="491.60" text-anchor="middle" class="pl">(j)</text>
</svg>
</body></html>
